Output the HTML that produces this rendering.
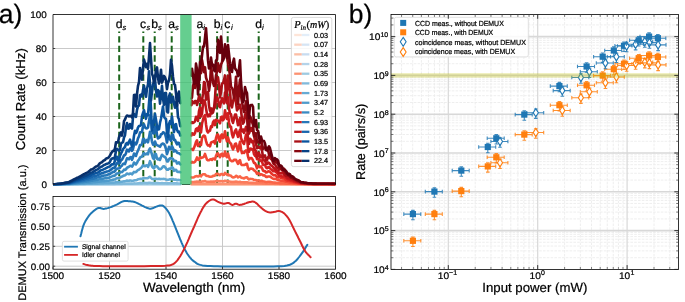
<!DOCTYPE html><html><head><meta charset="utf-8"><style>html,body{margin:0;padding:0;background:#fff;}body{width:685px;height:302px;overflow:hidden;font-family:"Liberation Sans",sans-serif;}svg{display:block;will-change:transform;}svg text{stroke:#000;stroke-width:0.22px;}</style></head><body><svg width="685" height="302" viewBox="0 0 685 302" text-rendering="geometricPrecision" font-family='"Liberation Sans", sans-serif'><defs><clipPath id="clipT"><rect x="53" y="14.5" width="282.5" height="171"/></clipPath><clipPath id="clipR"><rect x="391" y="14.5" width="287.6" height="254.9"/></clipPath></defs><rect width="685" height="302" fill="#fff"/><line x1="109.5" y1="14.5" x2="109.5" y2="184.5" stroke="#c9c9c9" stroke-width="1"/>
<line x1="166" y1="14.5" x2="166" y2="184.5" stroke="#c9c9c9" stroke-width="1"/>
<line x1="222.5" y1="14.5" x2="222.5" y2="184.5" stroke="#c9c9c9" stroke-width="1"/>
<line x1="279" y1="14.5" x2="279" y2="184.5" stroke="#c9c9c9" stroke-width="1"/>
<line x1="53" y1="150.5" x2="335.5" y2="150.5" stroke="#c9c9c9" stroke-width="1"/>
<line x1="53" y1="116.5" x2="335.5" y2="116.5" stroke="#c9c9c9" stroke-width="1"/>
<line x1="53" y1="82.5" x2="335.5" y2="82.5" stroke="#c9c9c9" stroke-width="1"/>
<line x1="53" y1="48.5" x2="335.5" y2="48.5" stroke="#c9c9c9" stroke-width="1"/>
<line x1="119.2" y1="31.5" x2="119.2" y2="184.5" stroke="#1b641b" stroke-width="2" stroke-dasharray="6.35 3.2" stroke-dashoffset="4.85"/>
<line x1="143.3" y1="31.5" x2="143.3" y2="184.5" stroke="#1b641b" stroke-width="2" stroke-dasharray="6.35 3.2" stroke-dashoffset="4.85"/>
<line x1="154.7" y1="31.5" x2="154.7" y2="184.5" stroke="#1b641b" stroke-width="2" stroke-dasharray="6.35 3.2" stroke-dashoffset="4.85"/>
<line x1="171.7" y1="31.5" x2="171.7" y2="184.5" stroke="#1b641b" stroke-width="2" stroke-dasharray="6.35 3.2" stroke-dashoffset="4.85"/>
<line x1="199.9" y1="31.5" x2="199.9" y2="184.5" stroke="#1b641b" stroke-width="2" stroke-dasharray="6.35 3.2" stroke-dashoffset="4.85"/>
<line x1="217.1" y1="31.5" x2="217.1" y2="184.5" stroke="#1b641b" stroke-width="2" stroke-dasharray="6.35 3.2" stroke-dashoffset="4.85"/>
<line x1="227.7" y1="31.5" x2="227.7" y2="184.5" stroke="#1b641b" stroke-width="2" stroke-dasharray="6.35 3.2" stroke-dashoffset="4.85"/>
<line x1="258.7" y1="31.5" x2="258.7" y2="184.5" stroke="#1b641b" stroke-width="2" stroke-dasharray="6.35 3.2" stroke-dashoffset="4.85"/>
<line x1="53" y1="184.5" x2="335.5" y2="184.5" stroke="#000" stroke-width="0.8"/>
<g clip-path="url(#clipT)">
<path d="M53 184.2 L54 184.2 L55 184.2 L56 184.2 L57 184.2 L58 184.2 L59 184.2 L60 184.2 L61 184.2 L62 184.2 L63 184.2 L64 184.2 L65 184.2 L66 184.2 L67 184.2 L68 184.2 L69 184.2 L70 184.2 L71 184.2 L72 184.2 L73 184.2 L74 184.2 L75 184.2 L76 184.2 L77 184.2 L78 184.2 L79 184.2 L80 184.2 L81 184.2 L82 184.2 L83 184.2 L84 184.2 L85 184.2 L86 184.2 L87 184.2 L88 184.2 L89 184.2 L90 184.2 L91 184.2 L92 184.2 L93 184.2 L94 184.2 L95 184.2 L96 184.2 L97 184.2 L98 184.2 L99 184.2 L100 184.2 L101 184.2 L102 184.2 L103 184.2 L104 184.2 L105 184.2 L106 184.2 L107 184.2 L108 184.2 L109 184.2 L110 184.2 L111 184.2 L112 184.2 L113 184.2 L114 184.2 L115 184.2 L116 184.2 L117 184.2 L118 184.2 L119 184.2 L120 184.2 L121 184.2 L122 184.2 L123 184.2 L124 184.2 L125 184.2 L126 184.2 L127 184.2 L128 184.2 L129 184.2 L130 184.2 L131 184.2 L132 184.2 L133 184.2 L134 184.2 L135 184.2 L136 184.2 L137 184.2 L138 184.2 L139 184.2 L140 184.2 L141 184.2 L142 184.2 L143 184.2 L144 184.2 L145 184.2 L146 184.2 L147 184.2 L148 184.2 L149 184.2 L150 184.2 L151 184.2 L152 184.2 L153 184.2 L154 184.2 L155 184.2 L156 184.2 L157 184.2 L158 184.2 L159 184.2 L160 184.2 L161 184.2 L162 184.2 L163 184.2 L164 184.2 L165 184.2 L166 184.2 L167 184.2 L168 184.2 L169 184.2 L170 184.2 L171 184.2 L172 184.2 L173 184.2 L174 184.2 L175 184.2 L176 184.2 L177 184.2 L178 184.2 L179 184.2 L180.3 184.2" fill="none" stroke="#e3eef9" stroke-width="2.6" stroke-linejoin="round" stroke-linecap="round"/>
<path d="M191.5 184.2 L192 184.2 L193 184.2 L194 184.2 L195 184.2 L196 184.2 L197 184.2 L198 184.2 L199 184.2 L200 184.2 L201 184.2 L202 184.2 L203 184.2 L204 184.2 L205 184.2 L206 184.2 L207 184.2 L208 184.2 L209 184.2 L210 184.2 L211 184.2 L212 184.2 L213 184.2 L214 184.2 L215 184.2 L216 184.2 L217 184.2 L218 184.2 L219 184.2 L220 184.2 L221 184.2 L222 184.2 L223 184.2 L224 184.2 L225 184.2 L226 184.2 L227 184.2 L228 184.2 L229 184.2 L230 184.2 L231 184.2 L232 184.2 L233 184.2 L234 184.2 L235 184.2 L236 184.2 L237 184.2 L238 184.2 L239 184.2 L240 184.2 L241 184.2 L242 184.2 L243 184.2 L244 184.2 L245 184.2 L246 184.2 L247 184.2 L248 184.2 L249 184.2 L250 184.2 L251 184.2 L252 184.2 L253 184.2 L254 184.2 L255 184.2 L256 184.2 L257 184.2 L258 184.2 L259 184.2 L260 184.2 L261 184.2 L262 184.2 L263 184.2 L264 184.2 L265 184.2 L266 184.2 L267 184.2 L268 184.2 L269 184.2 L270 184.2 L271 184.2 L272 184.2 L273 184.2 L274 184.2 L275 184.2 L276 184.2 L277 184.2 L278 184.2 L279 184.2 L280 184.2 L281 184.2 L282 184.2 L283 184.2 L284 184.2 L285 184.2 L286 184.2 L287 184.2 L288 184.2 L289 184.2 L290 184.2 L291 184.2 L292 184.2 L293 184.2 L294 184.2 L295 184.2 L296 184.2 L297 184.2 L298 184.2 L299 184.2 L300 184.2 L301 184.2 L302 184.2 L303 184.2 L304 184.2 L305 184.2 L306 184.2 L307 184.2 L308 184.2 L309 184.2 L310 184.2 L311 184.2 L312 184.2 L313 184.2 L314 184.2 L315 184.2 L316 184.2 L317 184.2 L318 184.2 L319 184.2 L320 184.2 L321 184.2 L322 184.2 L323 184.2 L324 184.2 L325 184.2 L326 184.2 L327 184.2 L328 184.2 L329 184.2 L330 184.2 L331 184.2 L332 184.2 L333 184.2 L334 184.2 L335 184.2" fill="none" stroke="#fee5d8" stroke-width="2.6" stroke-linejoin="round" stroke-linecap="round"/>
<path d="M53 184.2 L54 184.2 L55 184.2 L56 184.2 L57 184.2 L58 184.2 L59 184.2 L60 184.2 L61 184.2 L62 184.2 L63 184.2 L64 184.2 L65 184.2 L66 184.2 L67 184.2 L68 184.2 L69 184.2 L70 184.2 L71 184.2 L72 184.2 L73 184.2 L74 184.2 L75 184.2 L76 184.2 L77 184.2 L78 184.2 L79 184.2 L80 184.2 L81 184.2 L82 184.2 L83 184.2 L84 184.2 L85 184.2 L86 184.2 L87 184.2 L88 184.2 L89 184.2 L90 184.2 L91 184.2 L92 184.2 L93 184.2 L94 184.2 L95 184.2 L96 184.2 L97 184.2 L98 184.2 L99 184.2 L100 184.2 L101 184.2 L102 184.2 L103 184.2 L104 184.2 L105 184.2 L106 184.2 L107 184.2 L108 184.2 L109 184.2 L110 184.2 L111 184.2 L112 184.2 L113 184.2 L114 184.2 L115 184.2 L116 184.2 L117 184.2 L118 184.2 L119 184.2 L120 184.2 L121 184.2 L122 184.2 L123 184.2 L124 184.2 L125 184.2 L126 184.2 L127 184.2 L128 184.2 L129 184.2 L130 184.2 L131 184.2 L132 184.2 L133 184.2 L134 184.2 L135 184.2 L136 184.2 L137 184.2 L138 184.2 L139 184.2 L140 184.2 L141 184.2 L142 184.2 L143 184.2 L144 184.2 L145 184.2 L146 184.2 L147 184.2 L148 184.2 L149 184.2 L150 184.2 L151 184.2 L152 184.2 L153 184.2 L154 184.2 L155 184.2 L156 184.2 L157 184.2 L158 184.2 L159 184.2 L160 184.2 L161 184.2 L162 184.2 L163 184.2 L164 184.2 L165 184.2 L166 184.2 L167 184.2 L168 184.2 L169 184.2 L170 184.2 L171 184.2 L172 184.2 L173 184.2 L174 184.2 L175 184.2 L176 184.2 L177 184.2 L178 184.2 L179 184.2 L180.3 184.2" fill="none" stroke="#d6e5f4" stroke-width="2.6" stroke-linejoin="round" stroke-linecap="round"/>
<path d="M191.5 184.2 L192 184.2 L193 184.2 L194 184.2 L195 184.2 L196 184.2 L197 184.2 L198 184.2 L199 184.2 L200 184.2 L201 184.2 L202 184.2 L203 184.2 L204 184.2 L205 184.2 L206 184.2 L207 184.2 L208 184.2 L209 184.2 L210 184.2 L211 184.2 L212 184.2 L213 184.2 L214 184.2 L215 184.2 L216 184.2 L217 184.2 L218 184.2 L219 184.2 L220 184.2 L221 184.2 L222 184.2 L223 184.2 L224 184.2 L225 184.2 L226 184.2 L227 184.2 L228 184.2 L229 184.2 L230 184.2 L231 184.2 L232 184.2 L233 184.2 L234 184.2 L235 184.2 L236 184.2 L237 184.2 L238 184.2 L239 184.2 L240 184.2 L241 184.2 L242 184.2 L243 184.2 L244 184.2 L245 184.2 L246 184.2 L247 184.2 L248 184.2 L249 184.2 L250 184.2 L251 184.2 L252 184.2 L253 184.2 L254 184.2 L255 184.2 L256 184.2 L257 184.2 L258 184.2 L259 184.2 L260 184.2 L261 184.2 L262 184.2 L263 184.2 L264 184.2 L265 184.2 L266 184.2 L267 184.2 L268 184.2 L269 184.2 L270 184.2 L271 184.2 L272 184.2 L273 184.2 L274 184.2 L275 184.2 L276 184.2 L277 184.2 L278 184.2 L279 184.2 L280 184.2 L281 184.2 L282 184.2 L283 184.2 L284 184.2 L285 184.2 L286 184.2 L287 184.2 L288 184.2 L289 184.2 L290 184.2 L291 184.2 L292 184.2 L293 184.2 L294 184.2 L295 184.2 L296 184.2 L297 184.2 L298 184.2 L299 184.2 L300 184.2 L301 184.2 L302 184.2 L303 184.2 L304 184.2 L305 184.2 L306 184.2 L307 184.2 L308 184.2 L309 184.2 L310 184.2 L311 184.2 L312 184.2 L313 184.2 L314 184.2 L315 184.2 L316 184.2 L317 184.2 L318 184.2 L319 184.2 L320 184.2 L321 184.2 L322 184.2 L323 184.2 L324 184.2 L325 184.2 L326 184.2 L327 184.2 L328 184.2 L329 184.2 L330 184.2 L331 184.2 L332 184.2 L333 184.2 L334 184.2 L335 184.2" fill="none" stroke="#fdd3c1" stroke-width="2.6" stroke-linejoin="round" stroke-linecap="round"/>
<path d="M53 184.2 L54 184.2 L55 184.2 L56 184.2 L57 184.2 L58 184.2 L59 184.2 L60 184.2 L61 184.2 L62 184.2 L63 184.2 L64 184.2 L65 184.2 L66 184.2 L67 184.2 L68 184.2 L69 184.2 L70 184.2 L71 184.2 L72 184.2 L73 184.2 L74 184.2 L75 184.2 L76 184.2 L77 184.2 L78 184.2 L79 184.2 L80 184.2 L81 184.2 L82 184.2 L83 184.2 L84 184.2 L85 184.2 L86 184.2 L87 184.2 L88 184.2 L89 184.2 L90 184.2 L91 184.2 L92 184.2 L93 184.2 L94 184.2 L95 184.2 L96 184.2 L97 184.2 L98 184.2 L99 184.2 L100 184.2 L101 184.2 L102 184.2 L103 184.2 L104 184.2 L105 184.2 L106 184.2 L107 184.2 L108 184.2 L109 184.2 L110 184.2 L111 184.2 L112 184.2 L113 184.2 L114 184.2 L115 184.2 L116 184.2 L117 184.2 L118 184.2 L119 184.2 L120 184.2 L121 184.2 L122 184.2 L123 184.2 L124 184.2 L125 184.2 L126 184.2 L127 184.2 L128 184.2 L129 184.2 L130 184.2 L131 184.2 L132 184.2 L133 184.2 L134 184.2 L135 184.2 L136 184.2 L137 184.2 L138 184.2 L139 184.2 L140 184.2 L141 184.2 L142 184.2 L143 184.2 L144 184.2 L145 184.2 L146 184.2 L147 184.2 L148 184.2 L149 184.2 L150 184.2 L151 184.2 L152 184.2 L153 184.2 L154 184.2 L155 184.2 L156 184.2 L157 184.2 L158 184.2 L159 184.2 L160 184.2 L161 184.2 L162 184.2 L163 184.2 L164 184.2 L165 184.2 L166 184.2 L167 184.2 L168 184.2 L169 184.2 L170 184.2 L171 184.2 L172 184.2 L173 184.2 L174 184.2 L175 184.2 L176 184.2 L177 184.2 L178 184.2 L179 184.2 L180.3 184.2" fill="none" stroke="#c8dcf0" stroke-width="2.6" stroke-linejoin="round" stroke-linecap="round"/>
<path d="M191.5 184.2 L192 184.2 L193 184.2 L194 184.2 L195 184.2 L196 184.2 L197 184.2 L198 184.2 L199 184.2 L200 184.2 L201 184.2 L202 184.2 L203 184.2 L204 184.2 L205 184.2 L206 184.2 L207 184.2 L208 184.2 L209 184.2 L210 184.2 L211 184.2 L212 184.2 L213 184.2 L214 184.2 L215 184.2 L216 184.2 L217 184.2 L218 184.2 L219 184.2 L220 184.2 L221 184.2 L222 184.2 L223 184.2 L224 184.2 L225 184.2 L226 184.2 L227 184.2 L228 184.2 L229 184.2 L230 184.2 L231 184.2 L232 184.2 L233 184.2 L234 184.2 L235 184.2 L236 184.2 L237 184.2 L238 184.2 L239 184.2 L240 184.2 L241 184.2 L242 184.2 L243 184.2 L244 184.2 L245 184.2 L246 184.2 L247 184.2 L248 184.2 L249 184.2 L250 184.2 L251 184.2 L252 184.2 L253 184.2 L254 184.2 L255 184.2 L256 184.2 L257 184.2 L258 184.2 L259 184.2 L260 184.2 L261 184.2 L262 184.2 L263 184.2 L264 184.2 L265 184.2 L266 184.2 L267 184.2 L268 184.2 L269 184.2 L270 184.2 L271 184.2 L272 184.2 L273 184.2 L274 184.2 L275 184.2 L276 184.2 L277 184.2 L278 184.2 L279 184.2 L280 184.2 L281 184.2 L282 184.2 L283 184.2 L284 184.2 L285 184.2 L286 184.2 L287 184.2 L288 184.2 L289 184.2 L290 184.2 L291 184.2 L292 184.2 L293 184.2 L294 184.2 L295 184.2 L296 184.2 L297 184.2 L298 184.2 L299 184.2 L300 184.2 L301 184.2 L302 184.2 L303 184.2 L304 184.2 L305 184.2 L306 184.2 L307 184.2 L308 184.2 L309 184.2 L310 184.2 L311 184.2 L312 184.2 L313 184.2 L314 184.2 L315 184.2 L316 184.2 L317 184.2 L318 184.2 L319 184.2 L320 184.2 L321 184.2 L322 184.2 L323 184.2 L324 184.2 L325 184.2 L326 184.2 L327 184.2 L328 184.2 L329 184.2 L330 184.2 L331 184.2 L332 184.2 L333 184.2 L334 184.2 L335 184.2" fill="none" stroke="#fcbea5" stroke-width="2.6" stroke-linejoin="round" stroke-linecap="round"/>
<path d="M53 184.2 L54 184.2 L55 184.2 L56 184.2 L57 184.2 L58 184.2 L59 184.2 L60 184.2 L61 184.2 L62 184.2 L63 184.2 L64 184.2 L65 184.2 L66 184.2 L67 184.2 L68 184.2 L69 184.2 L70 184.2 L71 184.2 L72 184.2 L73 184.2 L74 184.2 L75 184.2 L76 184.2 L77 184.2 L78 184.2 L79 184.2 L80 184.2 L81 184.2 L82 184.2 L83 184.2 L84 184.2 L85 184.2 L86 184.2 L87 184.2 L88 184.2 L89 184.2 L90 184.2 L91 184.2 L92 184.2 L93 184.2 L94 184.2 L95 184.2 L96 184.2 L97 184.2 L98 184.2 L99 184.2 L100 184.2 L101 184.2 L102 184.2 L103 184.2 L104 184.2 L105 184.2 L106 184.2 L107 184.2 L108 184.2 L109 184.2 L110 184.2 L111 184.2 L112 184.2 L113 184.2 L114 184.2 L115 184.2 L116 184.2 L117 184.2 L118 184.2 L119 184.2 L120 184.2 L121 184.2 L122 184.2 L123 184.2 L124 184.2 L125 184.2 L126 184.2 L127 184.2 L128 184.2 L129 184.2 L130 184.2 L131 184.2 L132 184.2 L133 184.2 L134 184.2 L135 184.2 L136 184.2 L137 184.2 L138 184.2 L139 184.2 L140 184.2 L141 184.2 L142 184.2 L143 184.2 L144 184.2 L145 184.2 L146 184.2 L147 184.2 L148 184.2 L149 184.2 L150 184.2 L151 184.2 L152 184.2 L153 184.2 L154 184.2 L155 184.2 L156 184.2 L157 184.2 L158 184.2 L159 184.2 L160 184.2 L161 184.2 L162 184.2 L163 184.2 L164 184.2 L165 184.2 L166 184.2 L167 184.2 L168 184.2 L169 184.2 L170 184.2 L171 184.2 L172 184.2 L173 184.2 L174 184.2 L175 184.2 L176 184.2 L177 184.2 L178 184.2 L179 184.2 L180.3 184.2" fill="none" stroke="#b4d3e9" stroke-width="2.6" stroke-linejoin="round" stroke-linecap="round"/>
<path d="M191.5 184.2 L192 184.2 L193 184.2 L194 184.2 L195 184.2 L196 184.2 L197 184.2 L198 184.2 L199 184.2 L200 184.2 L201 184.2 L202 184.2 L203 184.2 L204 184.2 L205 184.2 L206 184.2 L207 184.2 L208 184.2 L209 184.2 L210 184.2 L211 184.2 L212 184.2 L213 184.2 L214 184.2 L215 184.2 L216 184.2 L217 184.2 L218 184.2 L219 184.2 L220 184.2 L221 184.2 L222 184.2 L223 184.2 L224 184.2 L225 184.2 L226 184.2 L227 184.2 L228 184.2 L229 184.2 L230 184.2 L231 184.2 L232 184.2 L233 184.2 L234 184.2 L235 184.2 L236 184.2 L237 184.2 L238 184.2 L239 184.2 L240 184.2 L241 184.2 L242 184.2 L243 184.2 L244 184.2 L245 184.2 L246 184.2 L247 184.2 L248 184.2 L249 184.2 L250 184.2 L251 184.2 L252 184.2 L253 184.2 L254 184.2 L255 184.2 L256 184.2 L257 184.2 L258 184.2 L259 184.2 L260 184.2 L261 184.2 L262 184.2 L263 184.2 L264 184.2 L265 184.2 L266 184.2 L267 184.2 L268 184.2 L269 184.2 L270 184.2 L271 184.2 L272 184.2 L273 184.2 L274 184.2 L275 184.2 L276 184.2 L277 184.2 L278 184.2 L279 184.2 L280 184.2 L281 184.2 L282 184.2 L283 184.2 L284 184.2 L285 184.2 L286 184.2 L287 184.2 L288 184.2 L289 184.2 L290 184.2 L291 184.2 L292 184.2 L293 184.2 L294 184.2 L295 184.2 L296 184.2 L297 184.2 L298 184.2 L299 184.2 L300 184.2 L301 184.2 L302 184.2 L303 184.2 L304 184.2 L305 184.2 L306 184.2 L307 184.2 L308 184.2 L309 184.2 L310 184.2 L311 184.2 L312 184.2 L313 184.2 L314 184.2 L315 184.2 L316 184.2 L317 184.2 L318 184.2 L319 184.2 L320 184.2 L321 184.2 L322 184.2 L323 184.2 L324 184.2 L325 184.2 L326 184.2 L327 184.2 L328 184.2 L329 184.2 L330 184.2 L331 184.2 L332 184.2 L333 184.2 L334 184.2 L335 184.2" fill="none" stroke="#fca98c" stroke-width="2.6" stroke-linejoin="round" stroke-linecap="round"/>
<path d="M53 184.2 L54 184.2 L55 184.2 L56 184.2 L57 184.2 L58 184.2 L59 184.2 L60 184.2 L61 184.2 L62 184.2 L63 184.2 L64 184.2 L65 184.2 L66 184.2 L67 184.2 L68 184.2 L69 184.2 L70 184.2 L71 184.2 L72 184.2 L73 184.2 L74 184.2 L75 184.2 L76 184.2 L77 184.2 L78 184.2 L79 184.2 L80 184.2 L81 184.2 L82 184.2 L83 184.2 L84 184.2 L85 184.2 L86 184.2 L87 184.2 L88 184.2 L89 184.2 L90 184.2 L91 184.2 L92 184.2 L93 184.2 L94 184.2 L95 184.2 L96 184.2 L97 184.2 L98 184.2 L99 184.2 L100 184.2 L101 184.2 L102 184.2 L103 184.2 L104 184.2 L105 184.2 L106 184.2 L107 184.2 L108 184.2 L109 184.2 L110 184.2 L111 184.2 L112 184.2 L113 184.2 L114 184.2 L115 184.2 L116 184.2 L117 184.2 L118 184.2 L119 184.2 L120 184.2 L121 184.2 L122 184.2 L123 184.2 L124 184.2 L125 184.2 L126 184.2 L127 184.2 L128 184.2 L129 184.2 L130 184.2 L131 184.2 L132 184.2 L133 184.2 L134 184.2 L135 184.2 L136 184.2 L137 184.2 L138 184.2 L139 184.2 L140 184.2 L141 184.2 L142 184.2 L143 184.1 L144 184.1 L145 184.1 L146 184.1 L147 184.1 L148 184.1 L149 184.1 L150 184 L151 184.1 L152 184.1 L153 184.1 L154 184.2 L155 184.1 L156 184.1 L157 184.2 L158 184.2 L159 184.2 L160 184.2 L161 184.2 L162 184.1 L163 184.2 L164 184.2 L165 184.2 L166 184.2 L167 184.2 L168 184.2 L169 184.2 L170 184.2 L171 184.2 L172 184.2 L173 184.2 L174 184.2 L175 184.2 L176 184.2 L177 184.2 L178 184.2 L179 184.2 L180.3 184.2" fill="none" stroke="#9dcae1" stroke-width="2.6" stroke-linejoin="round" stroke-linecap="round"/>
<path d="M191.5 184.2 L192 184.2 L193 184.2 L194 184.2 L195 184.2 L196 184.1 L197 184.1 L198 184.2 L199 184.2 L200 184.2 L201 184.2 L202 184.1 L203 184.1 L204 184.1 L205 184.1 L206 184.1 L207 184.1 L208 184.2 L209 184.2 L210 184.2 L211 184.2 L212 184.2 L213 184.2 L214 184.1 L215 184.2 L216 184.1 L217 184.1 L218 184.1 L219 184.1 L220 184.2 L221 184.1 L222 184.1 L223 184.1 L224 184.1 L225 184 L226 184.1 L227 184.1 L228 184.1 L229 184.1 L230 184.1 L231 184.2 L232 184.2 L233 184.2 L234 184.2 L235 184.2 L236 184.2 L237 184.2 L238 184.2 L239 184.2 L240 184.2 L241 184.2 L242 184.2 L243 184.2 L244 184.2 L245 184.2 L246 184.2 L247 184.2 L248 184.2 L249 184.2 L250 184.2 L251 184.2 L252 184.2 L253 184.2 L254 184.2 L255 184.2 L256 184.2 L257 184.2 L258 184.2 L259 184.2 L260 184.2 L261 184.2 L262 184.2 L263 184.2 L264 184.2 L265 184.2 L266 184.2 L267 184.2 L268 184.2 L269 184.2 L270 184.2 L271 184.2 L272 184.2 L273 184.2 L274 184.2 L275 184.2 L276 184.2 L277 184.2 L278 184.2 L279 184.2 L280 184.2 L281 184.2 L282 184.2 L283 184.2 L284 184.2 L285 184.2 L286 184.2 L287 184.2 L288 184.2 L289 184.2 L290 184.2 L291 184.2 L292 184.2 L293 184.2 L294 184.2 L295 184.2 L296 184.2 L297 184.2 L298 184.2 L299 184.2 L300 184.2 L301 184.2 L302 184.2 L303 184.2 L304 184.2 L305 184.2 L306 184.2 L307 184.2 L308 184.2 L309 184.2 L310 184.2 L311 184.2 L312 184.2 L313 184.2 L314 184.2 L315 184.2 L316 184.2 L317 184.2 L318 184.2 L319 184.2 L320 184.2 L321 184.2 L322 184.2 L323 184.2 L324 184.2 L325 184.2 L326 184.2 L327 184.2 L328 184.2 L329 184.2 L330 184.2 L331 184.2 L332 184.2 L333 184.2 L334 184.2 L335 184.2" fill="none" stroke="#fc9272" stroke-width="2.6" stroke-linejoin="round" stroke-linecap="round"/>
<path d="M53 184.2 L54 184.2 L55 184.2 L56 184.2 L57 184.2 L58 184.2 L59 184.2 L60 184.2 L61 184.2 L62 184.2 L63 184.2 L64 184.2 L65 184.2 L66 184.2 L67 184.2 L68 184.2 L69 184.2 L70 184.2 L71 184.2 L72 184.2 L73 184.2 L74 184.2 L75 184.2 L76 184.2 L77 184.2 L78 184.2 L79 184.2 L80 184.2 L81 184.2 L82 184.2 L83 184.2 L84 184.2 L85 184.2 L86 184.2 L87 184.2 L88 184.2 L89 184.2 L90 184.2 L91 184.2 L92 184.2 L93 184.2 L94 184.2 L95 184.2 L96 184.2 L97 184.2 L98 184.2 L99 184.2 L100 184.2 L101 184.2 L102 184.2 L103 184.2 L104 184.2 L105 184.2 L106 184.2 L107 184.2 L108 184.2 L109 184.2 L110 184.1 L111 184.1 L112 184.1 L113 184.1 L114 184.1 L115 184.1 L116 184 L117 184 L118 184 L119 184 L120 184 L121 183.9 L122 183.9 L123 183.8 L124 183.8 L125 183.8 L126 183.7 L127 183.6 L128 183.6 L129 183.6 L130 183.6 L131 183.6 L132 183.7 L133 183.6 L134 183.4 L135 183.5 L136 183.5 L137 183.5 L138 183.4 L139 183.3 L140 183.1 L141 183.1 L142 183.1 L143 183.1 L144 182.9 L145 183 L146 183 L147 183.1 L148 183.1 L149 182.8 L150 182.7 L151 182.9 L152 183.1 L153 183.1 L154 183.1 L155 183 L156 183.1 L157 183.1 L158 183.1 L159 183.2 L160 183.3 L161 183.2 L162 183.1 L163 183.2 L164 183.2 L165 183.2 L166 183.2 L167 183.4 L168 183.4 L169 183.3 L170 183.3 L171 183.3 L172 183.2 L173 183.3 L174 183.4 L175 183.3 L176 183.3 L177 183.4 L178 183.5 L179 183.5 L180.3 183.5" fill="none" stroke="#81badb" stroke-width="2.6" stroke-linejoin="round" stroke-linecap="round"/>
<path d="M191.5 182.1 L192 182 L193 182 L194 182 L195 181.9 L196 181.8 L197 181.6 L198 181.7 L199 181.6 L200 181.6 L201 181.9 L202 181.5 L203 181.4 L204 181.2 L205 181 L206 181.4 L207 181.7 L208 181.7 L209 181.7 L210 181.7 L211 181.5 L212 181.7 L213 181.6 L214 181.5 L215 181.6 L216 181.3 L217 181.1 L218 181 L219 181.3 L220 181.4 L221 181.1 L222 181.2 L223 181.4 L224 181.3 L225 180.7 L226 180.9 L227 181.4 L228 181.2 L229 181.4 L230 181.6 L231 181.7 L232 181.9 L233 182 L234 181.9 L235 181.8 L236 181.6 L237 181.7 L238 182 L239 182 L240 181.8 L241 182.2 L242 182.3 L243 182.3 L244 182.4 L245 182.4 L246 182.3 L247 182.2 L248 182.5 L249 182.8 L250 182.7 L251 182.8 L252 182.9 L253 182.9 L254 183 L255 183 L256 183.1 L257 183.3 L258 183.2 L259 183.3 L260 183.3 L261 183.2 L262 183.3 L263 183.5 L264 183.5 L265 183.5 L266 183.7 L267 183.6 L268 183.6 L269 183.6 L270 183.6 L271 183.7 L272 183.8 L273 183.8 L274 183.8 L275 183.9 L276 183.9 L277 183.9 L278 184 L279 184 L280 184.1 L281 184.1 L282 184.1 L283 184.1 L284 184.1 L285 184.1 L286 184.2 L287 184.2 L288 184.2 L289 184.2 L290 184.2 L291 184.2 L292 184.2 L293 184.2 L294 184.2 L295 184.2 L296 184.2 L297 184.2 L298 184.2 L299 184.2 L300 184.2 L301 184.2 L302 184.2 L303 184.2 L304 184.2 L305 184.2 L306 184.2 L307 184.2 L308 184.2 L309 184.2 L310 184.2 L311 184.2 L312 184.2 L313 184.2 L314 184.2 L315 184.2 L316 184.2 L317 184.2 L318 184.2 L319 184.2 L320 184.2 L321 184.2 L322 184.2 L323 184.2 L324 184.2 L325 184.2 L326 184.2 L327 184.2 L328 184.2 L329 184.2 L330 184.2 L331 184.2 L332 184.2 L333 184.2 L334 184.2 L335 184.2" fill="none" stroke="#fb7b5b" stroke-width="2.6" stroke-linejoin="round" stroke-linecap="round"/>
<path d="M53 184.2 L54 184.2 L55 184.2 L56 184.2 L57 184.2 L58 184.2 L59 184.2 L60 184.2 L61 184.2 L62 184.2 L63 184.2 L64 184.2 L65 184.2 L66 184.2 L67 184.2 L68 184.2 L69 184.2 L70 184.2 L71 184.2 L72 184.2 L73 184.2 L74 184.2 L75 184.2 L76 184.1 L77 184.1 L78 184.1 L79 184 L80 184 L81 184 L82 183.9 L83 183.9 L84 183.9 L85 183.9 L86 183.8 L87 183.8 L88 183.8 L89 183.7 L90 183.7 L91 183.6 L92 183.6 L93 183.5 L94 183.5 L95 183.5 L96 183.4 L97 183.4 L98 183.4 L99 183.3 L100 183.2 L101 183.2 L102 183.2 L103 183.1 L104 183 L105 183 L106 183 L107 182.9 L108 182.9 L109 182.9 L110 182.8 L111 182.7 L112 182.6 L113 182.5 L114 182.6 L115 182.4 L116 182.1 L117 182 L118 182.1 L119 182.1 L120 182 L121 181.8 L122 181.8 L123 181.5 L124 181.3 L125 181.4 L126 180.9 L127 180.6 L128 180.7 L129 180.7 L130 180.4 L131 180.6 L132 181 L133 180.8 L134 180.4 L135 180.2 L136 180.3 L137 179.9 L138 179.2 L139 179.1 L140 178.9 L141 178.9 L142 178.9 L143 178.3 L144 178.1 L145 178.3 L146 178.3 L147 178.2 L148 178.2 L149 177.2 L150 176.8 L151 177.9 L152 178.9 L153 179.1 L154 179.1 L155 178.7 L156 178.8 L157 179 L158 179 L159 178.8 L160 179.1 L161 179 L162 179 L163 179 L164 178.9 L165 179.1 L166 179.6 L167 179.9 L168 179.7 L169 179.6 L170 179.3 L171 179.2 L172 178.9 L173 179.1 L174 179.8 L175 179.6 L176 179.6 L177 180.2 L178 180 L179 179.9 L180.3 180.2" fill="none" stroke="#66abd4" stroke-width="2.6" stroke-linejoin="round" stroke-linecap="round"/>
<path d="M191.5 177.4 L192 177.5 L193 177.5 L194 177.3 L195 176.6 L196 176.3 L197 176.1 L198 176.5 L199 176.1 L200 175.4 L201 176.3 L202 175 L203 174.2 L204 174.3 L205 174.4 L206 175.6 L207 175.9 L208 176.1 L209 176.4 L210 176.7 L211 176.8 L212 176.6 L213 175.9 L214 175.9 L215 175.5 L216 174 L217 173.7 L218 173.8 L219 174.9 L220 175.2 L221 174 L222 174 L223 174.9 L224 174.8 L225 172.9 L226 173.7 L227 174.7 L228 174.3 L229 175.2 L230 175.4 L231 175.8 L232 176.9 L233 177.5 L234 177.3 L235 176.8 L236 175.8 L237 176.2 L238 177.4 L239 176.9 L240 176.3 L241 177.5 L242 177.9 L243 178.1 L244 178.4 L245 177.8 L246 177.4 L247 177.3 L248 178.7 L249 179.4 L250 178.9 L251 179 L252 179 L253 179.2 L254 180 L255 180 L256 180.1 L257 180.8 L258 180.4 L259 180.6 L260 181.1 L261 180.7 L262 180.8 L263 181.4 L264 181.5 L265 181.8 L266 182.1 L267 182 L268 181.8 L269 181.8 L270 181.9 L271 182 L272 182.2 L273 182.4 L274 182.6 L275 182.6 L276 182.7 L277 182.7 L278 182.9 L279 183.1 L280 183.1 L281 183.2 L282 183.2 L283 183.2 L284 183.3 L285 183.4 L286 183.6 L287 183.7 L288 183.7 L289 183.7 L290 183.8 L291 183.9 L292 183.9 L293 183.9 L294 184 L295 184 L296 184.1 L297 184.2 L298 184.2 L299 184.2 L300 184.2 L301 184.2 L302 184.2 L303 184.2 L304 184.2 L305 184.2 L306 184.2 L307 184.2 L308 184.2 L309 184.2 L310 184.2 L311 184.2 L312 184.2 L313 184.2 L314 184.2 L315 184.2 L316 184.2 L317 184.2 L318 184.2 L319 184.2 L320 184.2 L321 184.2 L322 184.2 L323 184.2 L324 184.2 L325 184.2 L326 184.2 L327 184.2 L328 184.2 L329 184.2 L330 184.2 L331 184.2 L332 184.2 L333 184.2 L334 184.2 L335 184.2" fill="none" stroke="#fa6547" stroke-width="2.6" stroke-linejoin="round" stroke-linecap="round"/>
<path d="M53 184.2 L54 184.2 L55 184.2 L56 184.2 L57 184.2 L58 184.2 L59 184.2 L60 184.2 L61 184.2 L62 184.2 L63 184.2 L64 184.2 L65 184.2 L66 184.2 L67 184.2 L68 184.2 L69 184.1 L70 184.1 L71 184 L72 183.9 L73 183.9 L74 183.8 L75 183.7 L76 183.6 L77 183.6 L78 183.5 L79 183.4 L80 183.4 L81 183.3 L82 183.2 L83 183.1 L84 183.1 L85 183 L86 182.9 L87 182.8 L88 182.8 L89 182.7 L90 182.6 L91 182.5 L92 182.4 L93 182.3 L94 182.2 L95 182.1 L96 182 L97 181.9 L98 181.8 L99 181.7 L100 181.5 L101 181.4 L102 181.3 L103 181.2 L104 181.1 L105 181.1 L106 180.9 L107 180.8 L108 180.7 L109 180.6 L110 180.4 L111 180.2 L112 180 L113 179.6 L114 179.6 L115 179.4 L116 178.6 L117 178.1 L118 178.3 L119 178.1 L120 177.6 L121 176.9 L122 176.6 L123 176 L124 175.5 L125 175.4 L126 174.5 L127 173.5 L128 173.9 L129 174.3 L130 173.6 L131 173.5 L132 174.4 L133 173.2 L134 171.9 L135 172.2 L136 172 L137 171 L138 169.9 L139 169.7 L140 168.7 L141 168 L142 166.9 L143 165.3 L144 165.8 L145 166.3 L146 165.4 L147 165.2 L148 166.9 L149 164.5 L150 161.2 L151 163.3 L152 166.4 L153 167.7 L154 168.3 L155 166.3 L156 166.1 L157 166.4 L158 167.7 L159 168.9 L160 169.3 L161 168.9 L162 167.9 L163 166.5 L164 166.2 L165 167.2 L166 168.4 L167 169.8 L168 169.8 L169 168.7 L170 168.5 L171 168.6 L172 167.1 L173 168 L174 170.8 L175 169.9 L176 169.7 L177 171.6 L178 172 L179 171.7 L180.3 172.2" fill="none" stroke="#4f9bcb" stroke-width="2.6" stroke-linejoin="round" stroke-linecap="round"/>
<path d="M191.5 162.6 L192 161.8 L193 162.4 L194 162.5 L195 161.8 L196 159.9 L197 157.4 L198 159.7 L199 159.9 L200 157.3 L201 158 L202 157.5 L203 157.4 L204 156.5 L205 153.9 L206 156.8 L207 159.7 L208 160.3 L209 160.3 L210 159.5 L211 159.1 L212 159.9 L213 158.5 L214 158.7 L215 159.5 L216 155.9 L217 153.8 L218 153.4 L219 155.8 L220 157.1 L221 154.4 L222 153.7 L223 156.2 L224 155.8 L225 151.6 L226 155.7 L227 157.2 L228 153.6 L229 157.2 L230 160.2 L231 160.7 L232 161.3 L233 161.1 L234 159.8 L235 159.9 L236 159.7 L237 161.9 L238 163.9 L239 161.2 L240 160.1 L241 164.3 L242 165.1 L243 164.9 L244 165.1 L245 164.8 L246 163.9 L247 163.9 L248 168.2 L249 170 L250 168.7 L251 168.6 L252 168.8 L253 169.1 L254 170.4 L255 170.8 L256 172 L257 173.9 L258 172.8 L259 173.3 L260 174.8 L261 174.2 L262 174.4 L263 175.4 L264 175.3 L265 175.7 L266 176.9 L267 176.9 L268 176.6 L269 176.4 L270 176.6 L271 177.2 L272 178 L273 178.6 L274 179 L275 178.8 L276 179 L277 179.6 L278 179.9 L279 180.2 L280 180.5 L281 180.8 L282 180.7 L283 180.8 L284 180.9 L285 181.3 L286 181.7 L287 181.8 L288 182 L289 182.2 L290 182.5 L291 182.6 L292 182.7 L293 182.9 L294 183.1 L295 183.2 L296 183.3 L297 183.5 L298 183.6 L299 183.7 L300 183.8 L301 183.9 L302 184 L303 184 L304 184.1 L305 184.1 L306 184.1 L307 184.2 L308 184.2 L309 184.2 L310 184.2 L311 184.2 L312 184.2 L313 184.2 L314 184.2 L315 184.2 L316 184.2 L317 184.2 L318 184.2 L319 184.2 L320 184.2 L321 184.2 L322 184.2 L323 184.2 L324 184.2 L325 184.2 L326 184.2 L327 184.2 L328 184.2 L329 184.2 L330 184.2 L331 184.2 L332 184.2 L333 184.2 L334 184.2 L335 184.2" fill="none" stroke="#f34a36" stroke-width="2.6" stroke-linejoin="round" stroke-linecap="round"/>
<path d="M53 184.2 L54 184.2 L55 184.2 L56 184.2 L57 184.2 L58 184.2 L59 184.2 L60 184.2 L61 184.2 L62 184.2 L63 184.2 L64 184.1 L65 184.1 L66 184 L67 184 L68 183.9 L69 183.9 L70 183.7 L71 183.6 L72 183.5 L73 183.4 L74 183.2 L75 183.1 L76 183 L77 182.8 L78 182.8 L79 182.6 L80 182.5 L81 182.3 L82 182.2 L83 182.1 L84 181.9 L85 181.8 L86 181.7 L87 181.5 L88 181.4 L89 181.2 L90 181 L91 180.8 L92 180.7 L93 180.5 L94 180.3 L95 180.1 L96 180 L97 179.9 L98 179.7 L99 179.5 L100 179.2 L101 179 L102 178.9 L103 178.7 L104 178.5 L105 178.3 L106 178.1 L107 178 L108 177.8 L109 177.7 L110 177.3 L111 176.8 L112 176.4 L113 175.9 L114 175.9 L115 175.6 L116 174.2 L117 173.4 L118 173.5 L119 173.1 L120 172.6 L121 171.9 L122 172.1 L123 171.1 L124 169.6 L125 169.9 L126 169.3 L127 167.7 L128 167.3 L129 166.7 L130 166 L131 165.7 L132 166.6 L133 165.3 L134 162.5 L135 163.2 L136 164.4 L137 162.9 L138 160.6 L139 159.6 L140 157.6 L141 156.9 L142 156.6 L143 154.5 L144 153 L145 154.5 L146 154.3 L147 153.3 L148 154.3 L149 150 L150 148.3 L151 151.3 L152 154.6 L153 158.2 L154 159.1 L155 153.8 L156 154.2 L157 158.8 L158 159.5 L159 158.6 L160 159.9 L161 157.1 L162 154.8 L163 155.7 L164 156.6 L165 157.2 L166 158.3 L167 161.4 L168 161.4 L169 159.2 L170 158.3 L171 158.6 L172 158.3 L173 159 L174 161.1 L175 160.7 L176 160.9 L177 163.5 L178 163.2 L179 162.3 L180.3 164.4" fill="none" stroke="#3a8ac2" stroke-width="2.6" stroke-linejoin="round" stroke-linecap="round"/>
<path d="M191.5 149 L192 149.1 L193 150 L194 147.9 L195 145.3 L196 141.9 L197 140.3 L198 146 L199 144.2 L200 143.9 L201 145 L202 138 L203 136.3 L204 135.5 L205 136.3 L206 140.9 L207 144 L208 145.4 L209 145.2 L210 146.3 L211 142.6 L212 142 L213 141.7 L214 141.2 L215 143.6 L216 138.2 L217 134.8 L218 134.6 L219 140.2 L220 141.7 L221 135.6 L222 134.4 L223 138.2 L224 136.7 L225 131.3 L226 137.7 L227 141.3 L228 137.4 L229 141.1 L230 143 L231 143.6 L232 147.2 L233 149.4 L234 147.1 L235 143.9 L236 143.6 L237 147.7 L238 151.3 L239 146.5 L240 141.8 L241 149.2 L242 153.1 L243 152.4 L244 153 L245 151.3 L246 150.4 L247 151.1 L248 156.4 L249 159.6 L250 158.2 L251 158 L252 158.5 L253 160.4 L254 162.9 L255 163 L256 165.1 L257 168.3 L258 165.8 L259 166.3 L260 167.2 L261 166.4 L262 168.1 L263 170.6 L264 171.1 L265 171.1 L266 172.4 L267 172.2 L268 171.4 L269 171.4 L270 171.9 L271 173 L272 174 L273 174.9 L274 175.4 L275 175 L276 175.6 L277 176.9 L278 177.4 L279 177.2 L280 177.3 L281 178.1 L282 178.3 L283 178.4 L284 178.5 L285 179.1 L286 180 L287 180.5 L288 180.8 L289 180.8 L290 181 L291 181.3 L292 181.5 L293 181.9 L294 182.3 L295 182.4 L296 182.6 L297 182.8 L298 182.9 L299 183.2 L300 183.4 L301 183.6 L302 183.7 L303 183.7 L304 183.8 L305 183.9 L306 183.9 L307 184 L308 184 L309 184.1 L310 184.1 L311 184.1 L312 184.2 L313 184.2 L314 184.2 L315 184.2 L316 184.2 L317 184.2 L318 184.2 L319 184.2 L320 184.2 L321 184.2 L322 184.2 L323 184.2 L324 184.2 L325 184.2 L326 184.2 L327 184.2 L328 184.2 L329 184.2 L330 184.2 L331 184.2 L332 184.2 L333 184.2 L334 184.2 L335 184.2" fill="none" stroke="#e63328" stroke-width="2.6" stroke-linejoin="round" stroke-linecap="round"/>
<path d="M53 184.2 L54 184.2 L55 184.2 L56 184.2 L57 184.2 L58 184.2 L59 184.2 L60 184.2 L61 184.2 L62 184.1 L63 184 L64 184 L65 183.9 L66 183.8 L67 183.7 L68 183.6 L69 183.6 L70 183.4 L71 183.2 L72 183 L73 182.8 L74 182.6 L75 182.4 L76 182.2 L77 182 L78 181.9 L79 181.7 L80 181.5 L81 181.3 L82 181.1 L83 180.9 L84 180.7 L85 180.5 L86 180.3 L87 180.1 L88 179.9 L89 179.6 L90 179.3 L91 179 L92 178.9 L93 178.7 L94 178.4 L95 178.1 L96 177.9 L97 177.6 L98 177.4 L99 177.1 L100 176.7 L101 176.4 L102 176.3 L103 175.9 L104 175.6 L105 175.4 L106 175.2 L107 174.9 L108 174.5 L109 174.4 L110 173.9 L111 173.2 L112 172.6 L113 171.8 L114 171.9 L115 171.2 L116 169.3 L117 168.7 L118 168.5 L119 168.4 L120 167.8 L121 166.3 L122 165.6 L123 163.9 L124 163.6 L125 164.1 L126 161.2 L127 158.3 L128 158.5 L129 159.3 L130 157.4 L131 157.1 L132 159.8 L133 157.2 L134 153.5 L135 155.2 L136 155.9 L137 152.7 L138 150.5 L139 148.2 L140 145.1 L141 145.1 L142 144 L143 139.1 L144 138.9 L145 142.6 L146 141 L147 139.8 L148 142.3 L149 137.6 L150 131.7 L151 135.4 L152 141.8 L153 144.7 L154 144.6 L155 141.5 L156 144.2 L157 145.1 L158 145.6 L159 146.1 L160 146.8 L161 144.8 L162 144 L163 143.5 L164 144.1 L165 145.8 L166 149 L167 154.1 L168 151.1 L169 146.8 L170 148.6 L171 149.2 L172 146.2 L173 148.1 L174 151.6 L175 150.2 L176 150.9 L177 152.5 L178 153 L179 153.2 L180.3 154.4" fill="none" stroke="#2777b8" stroke-width="2.6" stroke-linejoin="round" stroke-linecap="round"/>
<path d="M191.5 135.5 L192 133.4 L193 133.5 L194 134.7 L195 133.1 L196 129 L197 128.3 L198 131.1 L199 126.5 L200 127 L201 132.4 L202 123.6 L203 119.7 L204 116.5 L205 115.1 L206 124.2 L207 130.8 L208 132.5 L209 130.8 L210 130.7 L211 126.2 L212 126.9 L213 122.2 L214 120.6 L215 125.1 L216 119.8 L217 120.4 L218 120.6 L219 121.9 L220 123.3 L221 117.2 L222 116.7 L223 120.3 L224 118.7 L225 110.3 L226 115.3 L227 118.9 L228 113.4 L229 122.7 L230 126.7 L231 126.8 L232 134.1 L233 137.3 L234 134.2 L235 130.9 L236 129.4 L237 133.4 L238 137 L239 132.6 L240 129.8 L241 138 L242 140.8 L243 142.7 L244 143.9 L245 139.5 L246 134.6 L247 137.5 L248 148.5 L249 151.8 L250 148.7 L251 148.6 L252 149.6 L253 149.2 L254 154.2 L255 155.9 L256 155.3 L257 159.1 L258 159.1 L259 159.2 L260 161 L261 160.4 L262 161.5 L263 164.8 L264 165 L265 164.9 L266 167.5 L267 168.2 L268 167.3 L269 167.1 L270 168.4 L271 169.3 L272 170 L273 171.1 L274 171.1 L275 171 L276 172 L277 172.9 L278 174 L279 175.4 L280 175.6 L281 175.6 L282 176.4 L283 176.6 L284 176.1 L285 176.8 L286 177.8 L287 178.6 L288 179.3 L289 179.3 L290 179.9 L291 180.5 L292 180.5 L293 180.7 L294 181.4 L295 181.6 L296 181.9 L297 182.2 L298 182.3 L299 182.6 L300 183 L301 183.3 L302 183.3 L303 183.4 L304 183.6 L305 183.7 L306 183.7 L307 183.8 L308 183.9 L309 183.9 L310 183.9 L311 184 L312 184 L313 184 L314 184.1 L315 184.1 L316 184.1 L317 184.1 L318 184.1 L319 184.1 L320 184.1 L321 184.1 L322 184.1 L323 184.1 L324 184.1 L325 184.1 L326 184.1 L327 184.1 L328 184.1 L329 184.1 L330 184.1 L331 184.1 L332 184.1 L333 184.1 L334 184.1 L335 184.1" fill="none" stroke="#d21f20" stroke-width="2.6" stroke-linejoin="round" stroke-linecap="round"/>
<path d="M53 184.2 L54 184.2 L55 184.2 L56 184.2 L57 184.2 L58 184.2 L59 184.2 L60 184.1 L61 184.1 L62 184 L63 183.9 L64 183.8 L65 183.7 L66 183.5 L67 183.4 L68 183.3 L69 183.2 L70 183 L71 182.7 L72 182.5 L73 182.2 L74 181.9 L75 181.7 L76 181.4 L77 181.1 L78 181 L79 180.7 L80 180.5 L81 180.2 L82 179.9 L83 179.7 L84 179.4 L85 179.1 L86 178.8 L87 178.5 L88 178.3 L89 177.9 L90 177.5 L91 177.1 L92 176.9 L93 176.6 L94 176.2 L95 175.9 L96 175.7 L97 175.4 L98 175 L99 174.5 L100 173.9 L101 173.5 L102 173.4 L103 172.9 L104 172.5 L105 172.3 L106 171.8 L107 171.4 L108 171.2 L109 170.9 L110 170.3 L111 169.6 L112 168.7 L113 167.9 L114 168 L115 167.2 L116 164.7 L117 163.1 L118 163.4 L119 163.5 L120 162.5 L121 160.2 L122 159.6 L123 157.7 L124 155.2 L125 155.2 L126 153.1 L127 149.7 L128 150 L129 151.5 L130 148.6 L131 148.1 L132 150.8 L133 149 L134 144.8 L135 142.7 L136 144.3 L137 142.4 L138 138.3 L139 136.4 L140 132.5 L141 132.1 L142 132 L143 126.2 L144 124.3 L145 127.4 L146 128.3 L147 128.4 L148 127.5 L149 121.1 L150 115.2 L151 120.2 L152 130.7 L153 133.2 L154 133.5 L155 126.8 L156 127 L157 134.8 L158 138.4 L159 137.8 L160 137 L161 134.3 L162 134.1 L163 132.3 L164 132.7 L165 133.7 L166 137.3 L167 142.4 L168 137.8 L169 135.5 L170 139.3 L171 140.7 L172 134.7 L173 134.8 L174 139.9 L175 139.8 L176 142.5 L177 144.4 L178 142.6 L179 143 L180.3 146.8" fill="none" stroke="#1966ad" stroke-width="2.6" stroke-linejoin="round" stroke-linecap="round"/>
<path d="M191.5 123 L192 122.1 L193 122.9 L194 122.3 L195 121.3 L196 116.9 L197 117 L198 120.9 L199 111.2 L200 107.6 L201 116.5 L202 113.6 L203 103.8 L204 100.4 L205 102.1 L206 108.1 L207 114.3 L208 116.4 L209 114.5 L210 116.1 L211 111 L212 108.6 L213 109.4 L214 108.4 L215 107.4 L216 99.8 L217 97.3 L218 98.9 L219 106.1 L220 107.2 L221 102.1 L222 98.3 L223 101.2 L224 103.4 L225 92.6 L226 99.2 L227 103.3 L228 97.4 L229 108.5 L230 113.6 L231 114.1 L232 120 L233 122.9 L234 118.7 L235 114.5 L236 114.6 L237 119.7 L238 125.2 L239 122.5 L240 118.1 L241 129.2 L242 131.3 L243 129.5 L244 132.8 L245 130.2 L246 126.9 L247 127.7 L248 138.1 L249 143.9 L250 138.8 L251 139.7 L252 142.2 L253 141.1 L254 147.4 L255 150 L256 151.2 L257 157.2 L258 152.9 L259 152.8 L260 157.4 L261 155.6 L262 156.2 L263 159.8 L264 160.4 L265 160.5 L266 163.7 L267 164 L268 162.5 L269 163 L270 164 L271 165.4 L272 165.8 L273 167 L274 168.7 L275 168.6 L276 170 L277 170.6 L278 171.3 L279 172.7 L280 173 L281 173.1 L282 173.1 L283 173.4 L284 174.1 L285 175 L286 175.9 L287 177.2 L288 178.1 L289 178.1 L290 178.5 L291 179.1 L292 179.5 L293 179.9 L294 180.5 L295 180.9 L296 181.2 L297 181.6 L298 182 L299 182.3 L300 182.6 L301 183 L302 183.1 L303 183.1 L304 183.3 L305 183.4 L306 183.5 L307 183.7 L308 183.7 L309 183.8 L310 183.8 L311 183.8 L312 183.9 L313 184 L314 184 L315 184 L316 184 L317 184 L318 184 L319 184 L320 184 L321 184 L322 184 L323 184 L324 184 L325 184 L326 184 L327 184 L328 184 L329 184 L330 184 L331 184.1 L332 184.1 L333 184.1 L334 184.1 L335 184.1" fill="none" stroke="#be151a" stroke-width="2.6" stroke-linejoin="round" stroke-linecap="round"/>
<path d="M53 184.2 L54 184.2 L55 184.2 L56 184.2 L57 184.2 L58 184.1 L59 184.1 L60 184 L61 183.9 L62 183.8 L63 183.7 L64 183.5 L65 183.4 L66 183.3 L67 183.1 L68 183 L69 182.9 L70 182.5 L71 182.2 L72 181.9 L73 181.5 L74 181.2 L75 180.9 L76 180.5 L77 180.2 L78 180.1 L79 179.8 L80 179.4 L81 179 L82 178.7 L83 178.4 L84 177.9 L85 177.6 L86 177.3 L87 176.9 L88 176.4 L89 176 L90 175.6 L91 175.1 L92 174.7 L93 174.2 L94 173.8 L95 173.4 L96 173.1 L97 172.8 L98 172.4 L99 171.8 L100 170.9 L101 170.2 L102 170 L103 169.6 L104 169.1 L105 168.7 L106 168.2 L107 167.7 L108 166.9 L109 166.7 L110 166.3 L111 165.1 L112 164.3 L113 164.4 L114 163.7 L115 160.5 L116 156.9 L117 156.8 L118 160.6 L119 160.5 L120 155.8 L121 153.4 L122 151.6 L123 149.1 L124 148 L125 147 L126 143.7 L127 142.9 L128 144.5 L129 141.9 L130 139.7 L131 142.9 L132 146.6 L133 143.4 L134 135.7 L135 130.8 L136 133 L137 131.2 L138 127.4 L139 126 L140 125.8 L141 124.8 L142 116.2 L143 113 L144 110.2 L145 115.6 L146 118.8 L147 114 L148 115.2 L149 103.3 L150 90.2 L151 109 L152 130.3 L153 126.4 L154 121.3 L155 113.9 L156 119.6 L157 126.1 L158 129.6 L159 129.3 L160 122.8 L161 118.7 L162 112.8 L163 106.5 L164 116.6 L165 118.3 L166 118.8 L167 131.7 L168 137.1 L169 124 L170 121.1 L171 123.8 L172 116.5 L173 125.5 L174 132.1 L175 124.8 L176 124.1 L177 129.8 L178 132.1 L179 131.5 L180.3 135.5" fill="none" stroke="#0a549e" stroke-width="2.6" stroke-linejoin="round" stroke-linecap="round"/>
<path d="M191.5 105.2 L192 101.1 L193 102.4 L194 103.2 L195 101 L196 101.1 L197 104.9 L198 101.5 L199 96.1 L200 98.7 L201 103 L202 100.3 L203 93.7 L204 82 L205 82.8 L206 99.6 L207 96.4 L208 92.1 L209 105.8 L210 110.8 L211 108.6 L212 113.4 L213 112.5 L214 108.5 L215 98 L216 81.8 L217 80.3 L218 77.3 L219 85.5 L220 97.4 L221 92.2 L222 83.5 L223 83.3 L224 80 L225 75.4 L226 99.4 L227 92.2 L228 75.9 L229 86.9 L230 90.8 L231 105.3 L232 107.4 L233 101.4 L234 97.8 L235 94.9 L236 102.8 L237 110.4 L238 108.9 L239 106.5 L240 104.6 L241 110.3 L242 119 L243 123.6 L244 121.9 L245 114.9 L246 112.7 L247 117.5 L248 127.1 L249 133.7 L250 130.6 L251 127.9 L252 130.8 L253 131.4 L254 134.8 L255 141 L256 143.9 L257 148.2 L258 146.6 L259 147.4 L260 148.3 L261 146.3 L262 150.6 L263 156.8 L264 156.4 L265 155.4 L266 160.3 L267 160.4 L268 157.4 L269 155.8 L270 158 L271 159.1 L272 159.6 L273 162.5 L274 164 L275 164.4 L276 166.5 L277 167.7 L278 168.3 L279 169.7 L280 169.1 L281 168.6 L282 169.9 L283 171.2 L284 172.2 L285 174.7 L286 175.8 L287 175.8 L288 175.7 L289 175.1 L290 176.6 L291 177.7 L292 177.7 L293 178.6 L294 179.5 L295 179.9 L296 180.2 L297 180.9 L298 181.7 L299 181.8 L300 182.1 L301 182.5 L302 182.7 L303 182.9 L304 183.1 L305 183.2 L306 183.3 L307 183.5 L308 183.5 L309 183.6 L310 183.7 L311 183.7 L312 183.8 L313 183.9 L314 183.9 L315 183.9 L316 183.9 L317 183.9 L318 183.9 L319 183.9 L320 183.9 L321 183.9 L322 183.9 L323 183.9 L324 183.9 L325 183.9 L326 184 L327 183.9 L328 183.9 L329 183.9 L330 184 L331 184 L332 184 L333 184 L334 184 L335 184" fill="none" stroke="#a91016" stroke-width="2.6" stroke-linejoin="round" stroke-linecap="round"/>
<path d="M53 184.2 L54 184.2 L55 184.2 L56 184.2 L57 184.1 L58 184 L59 184 L60 183.9 L61 183.8 L62 183.6 L63 183.5 L64 183.3 L65 183.1 L66 183 L67 182.8 L68 182.6 L69 182.5 L70 182.1 L71 181.7 L72 181.3 L73 180.9 L74 180.4 L75 180 L76 179.6 L77 179.2 L78 178.8 L79 178.3 L80 178 L81 177.5 L82 177.1 L83 176.8 L84 176.3 L85 175.9 L86 175.6 L87 175.1 L88 174.6 L89 174 L90 173.3 L91 172.7 L92 172.4 L93 171.9 L94 171.2 L95 170.8 L96 170 L97 169.6 L98 169.2 L99 168.2 L100 167.3 L101 166.8 L102 166.5 L103 165.7 L104 165 L105 164.7 L106 164.1 L107 163.7 L108 163.4 L109 163 L110 161.7 L111 159.5 L112 158.6 L113 158.3 L114 158.4 L115 156.5 L116 150.7 L117 148.9 L118 149.6 L119 150.7 L120 149.9 L121 143.5 L122 142.7 L123 142.2 L124 137.5 L125 135.2 L126 127.2 L127 123.1 L128 128.6 L129 128.5 L130 124 L131 127.6 L132 128.5 L133 117.4 L134 113.9 L135 116.2 L136 116.8 L137 109.9 L138 106.2 L139 105.7 L140 95.2 L141 94.7 L142 96.5 L143 90.1 L144 85.8 L145 92.6 L146 96.8 L147 88.7 L148 84.3 L149 71.3 L150 83.7 L151 100.4 L152 91.7 L153 84.6 L154 81.5 L155 79.3 L156 90.5 L157 96.5 L158 90.1 L159 91.3 L160 103.7 L161 95.8 L162 85.8 L163 98.7 L164 104.9 L165 93.1 L166 93.1 L167 111.6 L168 112.4 L169 96.3 L170 93.4 L171 102.6 L172 101.2 L173 96.8 L174 103.3 L175 107.8 L176 102.3 L177 104.1 L178 117.2 L179 119.3 L180.3 126.3" fill="none" stroke="#084285" stroke-width="2.6" stroke-linejoin="round" stroke-linecap="round"/>
<path d="M191.5 98.5 L192 97.3 L193 86 L194 83.2 L195 88 L196 79.2 L197 74.9 L198 88 L199 77.6 L200 67.2 L201 73.1 L202 60.1 L203 65.7 L204 72.1 L205 67.2 L206 77.5 L207 80.7 L208 82.4 L209 90.7 L210 83.9 L211 66.6 L212 72.5 L213 82.3 L214 86 L215 84.6 L216 75.3 L217 71.6 L218 63.4 L219 70.1 L220 71.8 L221 64.3 L222 62.4 L223 54.7 L224 55.5 L225 51.4 L226 48.7 L227 56.4 L228 64.2 L229 68.7 L230 75.4 L231 86.9 L232 87.9 L233 90.7 L234 98.1 L235 89.3 L236 76.7 L237 92.4 L238 104.4 L239 88.3 L240 79.6 L241 95.9 L242 102.1 L243 107.3 L244 112.1 L245 107.6 L246 101.2 L247 109.6 L248 130.4 L249 129 L250 116.3 L251 118.3 L252 121.9 L253 124.9 L254 136.1 L255 134.4 L256 133.2 L257 142.5 L258 141.5 L259 141.6 L260 143.3 L261 140.9 L262 143.2 L263 148.9 L264 147.7 L265 147.4 L266 150 L267 148.4 L268 149.9 L269 154.4 L270 154.8 L271 156 L272 157.2 L273 160.2 L274 163.7 L275 159.8 L276 160.6 L277 162.8 L278 163.7 L279 166.8 L280 167.1 L281 168.2 L282 169.6 L283 168.4 L284 168.7 L285 171 L286 173.3 L287 173.9 L288 174.6 L289 175.7 L290 176.6 L291 177.5 L292 177.9 L293 178.3 L294 178.9 L295 179.3 L296 179.9 L297 180.6 L298 180.8 L299 181.1 L300 181.8 L301 182.3 L302 182.4 L303 182.5 L304 182.7 L305 182.9 L306 183 L307 183.3 L308 183.3 L309 183.4 L310 183.5 L311 183.5 L312 183.6 L313 183.7 L314 183.7 L315 183.8 L316 183.8 L317 183.8 L318 183.8 L319 183.8 L320 183.8 L321 183.8 L322 183.8 L323 183.8 L324 183.8 L325 183.8 L326 183.8 L327 183.8 L328 183.8 L329 183.9 L330 183.8 L331 183.8 L332 183.9 L333 183.9 L334 183.9 L335 183.9" fill="none" stroke="#880811" stroke-width="2.6" stroke-linejoin="round" stroke-linecap="round"/>
<path d="M53 184.2 L54 184.2 L55 184.2 L56 184.1 L57 184 L58 183.9 L59 183.8 L60 183.7 L61 183.7 L62 183.4 L63 183.2 L64 183 L65 182.8 L66 182.6 L67 182.4 L68 182.2 L69 181.9 L70 181.4 L71 180.9 L72 180.5 L73 179.9 L74 179.3 L75 179 L76 178.4 L77 177.7 L78 177.4 L79 177 L80 176.5 L81 175.9 L82 175.2 L83 174.8 L84 174.1 L85 173.7 L86 173.1 L87 172.7 L88 172.1 L89 171.4 L90 170.4 L91 169.6 L92 169.4 L93 168.8 L94 168.1 L95 167.3 L96 166.5 L97 166.2 L98 165.7 L99 164.4 L100 163.1 L101 162.6 L102 162.2 L103 161.1 L104 160.4 L105 160 L106 158.6 L107 158.2 L108 157.9 L109 157 L110 155.6 L111 153.5 L112 152.1 L113 150.7 L114 150.9 L115 148.2 L116 142.3 L117 142.2 L118 142.4 L119 137.3 L120 134.4 L121 132.4 L122 135.6 L123 130.1 L124 121.2 L125 119.5 L126 117 L127 115.5 L128 115.7 L129 116.4 L130 115.8 L131 116.2 L132 117.3 L133 112.6 L134 95 L135 94.9 L136 106.4 L137 94.1 L138 85.8 L139 82.1 L140 68 L141 75 L142 79.6 L143 68 L144 59.6 L145 63.3 L146 67.1 L147 63.8 L148 68.9 L149 56.8 L150 43 L151 59 L152 73.8 L153 76.7 L154 82.6 L155 79.5 L156 69.5 L157 67.4 L158 77.9 L159 83.6 L160 78.4 L161 69.7 L162 82.6 L163 80.1 L164 75.9 L165 77.3 L166 80.2 L167 89.1 L168 82.6 L169 80.5 L170 74.1 L171 59.8 L172 66 L173 76.9 L174 83.8 L175 84.8 L176 93.4 L177 105.9 L178 95.3 L179 91.6 L180.3 103.2" fill="none" stroke="#08306b" stroke-width="2.6" stroke-linejoin="round" stroke-linecap="round"/>
<path d="M191.5 75.8 L192 68.8 L193 75.1 L194 84 L195 83.4 L196 63.6 L197 69.4 L198 94.5 L199 82.1 L200 62.1 L201 63.8 L202 55.5 L203 46.6 L204 46.5 L205 37.8 L206 28.2 L207 42.9 L208 60.4 L209 68.5 L210 68.2 L211 57.6 L212 64.6 L213 64.5 L214 70.4 L215 71.3 L216 60.4 L217 59.5 L218 39.9 L219 44.8 L220 52.9 L221 36.5 L222 48.2 L223 60.6 L224 58.1 L225 44.2 L226 51.8 L227 58.1 L228 45 L229 53.9 L230 63.2 L231 69.7 L232 72 L233 62.5 L234 58.7 L235 68.2 L236 69.8 L237 71 L238 76.2 L239 68.6 L240 60.3 L241 81.7 L242 94 L243 102 L244 99.9 L245 87.1 L246 91 L247 93.1 L248 106.9 L249 118.1 L250 105.4 L251 105.1 L252 104.9 L253 106.8 L254 125.4 L255 126.4 L256 120 L257 129.9 L258 130.7 L259 137.5 L260 142 L261 136.5 L262 140.4 L263 140.8 L264 141.1 L265 143.5 L266 148.7 L267 150.4 L268 147.9 L269 146.3 L270 148.2 L271 152.3 L272 156.4 L273 160.7 L274 160.6 L275 158.1 L276 159.3 L277 159.4 L278 160.5 L279 164.7 L280 165.8 L281 165.6 L282 166.7 L283 169.6 L284 170.3 L285 169.9 L286 171 L287 172.5 L288 174.5 L289 173.7 L290 174.4 L291 176.2 L292 176.2 L293 176.6 L294 177.8 L295 178.7 L296 179.4 L297 179.7 L298 180.1 L299 180.6 L300 181.5 L301 182.1 L302 182.2 L303 182.3 L304 182.7 L305 182.8 L306 182.8 L307 183 L308 183.2 L309 183.3 L310 183.4 L311 183.4 L312 183.5 L313 183.6 L314 183.6 L315 183.6 L316 183.6 L317 183.7 L318 183.7 L319 183.7 L320 183.7 L321 183.7 L322 183.7 L323 183.7 L324 183.7 L325 183.8 L326 183.8 L327 183.7 L328 183.7 L329 183.8 L330 183.8 L331 183.8 L332 183.8 L333 183.8 L334 183.8 L335 183.8" fill="none" stroke="#67000d" stroke-width="2.6" stroke-linejoin="round" stroke-linecap="round"/>
</g>
<rect x="180.2" y="14.5" width="11.4" height="170" fill="#3ac070" fill-opacity="0.78"/>
<text x="115.8" y="28" font-size="12.2" fill="#000">d</text>
<text x="122.5" y="30" font-size="7.5" font-style="italic" fill="#000">s</text>
<text x="139.9" y="28" font-size="12.2" fill="#000">c</text>
<text x="146.6" y="30" font-size="7.5" font-style="italic" fill="#000">s</text>
<text x="151.3" y="28" font-size="12.2" fill="#000">b</text>
<text x="158" y="30" font-size="7.5" font-style="italic" fill="#000">s</text>
<text x="168.3" y="28" font-size="12.2" fill="#000">a</text>
<text x="175" y="30" font-size="7.5" font-style="italic" fill="#000">s</text>
<text x="196.5" y="28" font-size="12.2" fill="#000">a</text>
<text x="203.2" y="30" font-size="7.5" font-style="italic" fill="#000">i</text>
<text x="213.7" y="28" font-size="12.2" fill="#000">b</text>
<text x="220.4" y="30" font-size="7.5" font-style="italic" fill="#000">i</text>
<text x="224.3" y="28" font-size="12.2" fill="#000">c</text>
<text x="231" y="30" font-size="7.5" font-style="italic" fill="#000">i</text>
<text x="255.3" y="28" font-size="12.2" fill="#000">d</text>
<text x="262" y="30" font-size="7.5" font-style="italic" fill="#000">i</text>
<path d="M53 184.5 V14.5 H335.5 V184.5" fill="none" stroke="#000" stroke-width="0.8"/>
<line x1="53" y1="184.5" x2="55.2" y2="184.5" stroke="#222" stroke-width="0.8"/>
<text x="46.9" y="187.8" font-size="9.5" text-anchor="end" textLength="5.5" lengthAdjust="spacingAndGlyphs" fill="#000">0</text>
<line x1="53" y1="150.5" x2="55.2" y2="150.5" stroke="#222" stroke-width="0.8"/>
<text x="46.9" y="153.8" font-size="9.5" text-anchor="end" textLength="11.01" lengthAdjust="spacingAndGlyphs" fill="#000">20</text>
<line x1="53" y1="116.5" x2="55.2" y2="116.5" stroke="#222" stroke-width="0.8"/>
<text x="46.9" y="119.8" font-size="9.5" text-anchor="end" textLength="11.01" lengthAdjust="spacingAndGlyphs" fill="#000">40</text>
<line x1="53" y1="82.5" x2="55.2" y2="82.5" stroke="#222" stroke-width="0.8"/>
<text x="46.9" y="85.8" font-size="9.5" text-anchor="end" textLength="11.01" lengthAdjust="spacingAndGlyphs" fill="#000">60</text>
<line x1="53" y1="48.5" x2="55.2" y2="48.5" stroke="#222" stroke-width="0.8"/>
<text x="46.9" y="51.8" font-size="9.5" text-anchor="end" textLength="11.01" lengthAdjust="spacingAndGlyphs" fill="#000">80</text>
<line x1="53" y1="14.5" x2="55.2" y2="14.5" stroke="#222" stroke-width="0.8"/>
<text x="46.9" y="17.8" font-size="9.5" text-anchor="end" textLength="16.51" lengthAdjust="spacingAndGlyphs" fill="#000">100</text>
<text x="0" y="0" font-size="13" text-anchor="middle" textLength="102" lengthAdjust="spacingAndGlyphs" fill="#000" transform="translate(25.2 99.2) rotate(-90)">Count Rate (kHz)</text>
<rect x="291.4" y="17.4" width="40.4" height="149.2" rx="2" fill="#fff" fill-opacity="0.85" stroke="#d6d6d6" stroke-width="0.9"/>
<text x="294.3" y="28.2" font-size="10.5" font-style="italic" font-family='"Liberation Serif", serif' fill="#000">P</text>
<text x="300.6" y="29.7" font-size="7.2" textLength="5.4" lengthAdjust="spacingAndGlyphs" font-style="italic" font-family='"Liberation Serif", serif' fill="#000">in</text>
<text x="306.6" y="28.2" font-size="10.5" font-family='"Liberation Serif", serif' fill="#000">(</text>
<text x="310" y="28.2" font-size="10.5" textLength="15.6" lengthAdjust="spacingAndGlyphs" font-style="italic" font-family='"Liberation Serif", serif' fill="#000">mW</text>
<text x="325.8" y="28.2" font-size="10.5" font-family='"Liberation Serif", serif' fill="#000">)</text>
<line x1="294.2" y1="35" x2="301.8" y2="35" stroke="#fee5d8" stroke-width="2.3"/>
<line x1="301.8" y1="35" x2="309.4" y2="35" stroke="#e3eef9" stroke-width="2.3"/>
<text x="314" y="37.6" font-size="7.3" textLength="14.14" lengthAdjust="spacingAndGlyphs" fill="#000">0.03</text>
<line x1="294.2" y1="44.68" x2="301.8" y2="44.68" stroke="#fdd3c1" stroke-width="2.3"/>
<line x1="301.8" y1="44.68" x2="309.4" y2="44.68" stroke="#d6e5f4" stroke-width="2.3"/>
<text x="314" y="47.28" font-size="7.3" textLength="14.14" lengthAdjust="spacingAndGlyphs" fill="#000">0.07</text>
<line x1="294.2" y1="54.36" x2="301.8" y2="54.36" stroke="#fcbea5" stroke-width="2.3"/>
<line x1="301.8" y1="54.36" x2="309.4" y2="54.36" stroke="#c8dcf0" stroke-width="2.3"/>
<text x="314" y="56.96" font-size="7.3" textLength="14.14" lengthAdjust="spacingAndGlyphs" fill="#000">0.14</text>
<line x1="294.2" y1="64.04" x2="301.8" y2="64.04" stroke="#fca98c" stroke-width="2.3"/>
<line x1="301.8" y1="64.04" x2="309.4" y2="64.04" stroke="#b4d3e9" stroke-width="2.3"/>
<text x="314" y="66.64" font-size="7.3" textLength="14.14" lengthAdjust="spacingAndGlyphs" fill="#000">0.28</text>
<line x1="294.2" y1="73.72" x2="301.8" y2="73.72" stroke="#fc9272" stroke-width="2.3"/>
<line x1="301.8" y1="73.72" x2="309.4" y2="73.72" stroke="#9dcae1" stroke-width="2.3"/>
<text x="314" y="76.32" font-size="7.3" textLength="14.14" lengthAdjust="spacingAndGlyphs" fill="#000">0.35</text>
<line x1="294.2" y1="83.4" x2="301.8" y2="83.4" stroke="#fb7b5b" stroke-width="2.3"/>
<line x1="301.8" y1="83.4" x2="309.4" y2="83.4" stroke="#81badb" stroke-width="2.3"/>
<text x="314" y="86" font-size="7.3" textLength="14.14" lengthAdjust="spacingAndGlyphs" fill="#000">0.69</text>
<line x1="294.2" y1="93.08" x2="301.8" y2="93.08" stroke="#fa6547" stroke-width="2.3"/>
<line x1="301.8" y1="93.08" x2="309.4" y2="93.08" stroke="#66abd4" stroke-width="2.3"/>
<text x="314" y="95.68" font-size="7.3" textLength="14.14" lengthAdjust="spacingAndGlyphs" fill="#000">1.73</text>
<line x1="294.2" y1="102.76" x2="301.8" y2="102.76" stroke="#f34a36" stroke-width="2.3"/>
<line x1="301.8" y1="102.76" x2="309.4" y2="102.76" stroke="#4f9bcb" stroke-width="2.3"/>
<text x="314" y="105.36" font-size="7.3" textLength="14.14" lengthAdjust="spacingAndGlyphs" fill="#000">3.47</text>
<line x1="294.2" y1="112.44" x2="301.8" y2="112.44" stroke="#e63328" stroke-width="2.3"/>
<line x1="301.8" y1="112.44" x2="309.4" y2="112.44" stroke="#3a8ac2" stroke-width="2.3"/>
<text x="314" y="115.04" font-size="7.3" textLength="10.1" lengthAdjust="spacingAndGlyphs" fill="#000">5.2</text>
<line x1="294.2" y1="122.12" x2="301.8" y2="122.12" stroke="#d21f20" stroke-width="2.3"/>
<line x1="301.8" y1="122.12" x2="309.4" y2="122.12" stroke="#2777b8" stroke-width="2.3"/>
<text x="314" y="124.72" font-size="7.3" textLength="14.14" lengthAdjust="spacingAndGlyphs" fill="#000">6.93</text>
<line x1="294.2" y1="131.8" x2="301.8" y2="131.8" stroke="#be151a" stroke-width="2.3"/>
<line x1="301.8" y1="131.8" x2="309.4" y2="131.8" stroke="#1966ad" stroke-width="2.3"/>
<text x="314" y="134.4" font-size="7.3" textLength="14.14" lengthAdjust="spacingAndGlyphs" fill="#000">9.36</text>
<line x1="294.2" y1="141.48" x2="301.8" y2="141.48" stroke="#a91016" stroke-width="2.3"/>
<line x1="301.8" y1="141.48" x2="309.4" y2="141.48" stroke="#0a549e" stroke-width="2.3"/>
<text x="314" y="144.08" font-size="7.3" textLength="14.14" lengthAdjust="spacingAndGlyphs" fill="#000">13.5</text>
<line x1="294.2" y1="151.16" x2="301.8" y2="151.16" stroke="#880811" stroke-width="2.3"/>
<line x1="301.8" y1="151.16" x2="309.4" y2="151.16" stroke="#084285" stroke-width="2.3"/>
<text x="314" y="153.76" font-size="7.3" textLength="14.14" lengthAdjust="spacingAndGlyphs" fill="#000">17.8</text>
<line x1="294.2" y1="160.84" x2="301.8" y2="160.84" stroke="#67000d" stroke-width="2.3"/>
<line x1="301.8" y1="160.84" x2="309.4" y2="160.84" stroke="#08306b" stroke-width="2.3"/>
<text x="314" y="163.44" font-size="7.3" textLength="14.14" lengthAdjust="spacingAndGlyphs" fill="#000">22.4</text>
<line x1="109.5" y1="196.5" x2="109.5" y2="269.2" stroke="#c9c9c9" stroke-width="1"/>
<line x1="166" y1="196.5" x2="166" y2="269.2" stroke="#c9c9c9" stroke-width="1"/>
<line x1="222.5" y1="196.5" x2="222.5" y2="269.2" stroke="#c9c9c9" stroke-width="1"/>
<line x1="279" y1="196.5" x2="279" y2="269.2" stroke="#c9c9c9" stroke-width="1"/>
<line x1="53" y1="266.2" x2="335.5" y2="266.2" stroke="#c9c9c9" stroke-width="1"/>
<line x1="53" y1="246.3" x2="335.5" y2="246.3" stroke="#c9c9c9" stroke-width="1"/>
<line x1="53" y1="226.4" x2="335.5" y2="226.4" stroke="#c9c9c9" stroke-width="1"/>
<line x1="53" y1="206.5" x2="335.5" y2="206.5" stroke="#c9c9c9" stroke-width="1"/>
<path d="M80.5 236.3 L80.8 235 L81.3 233.2 L81.8 231.1 L82.4 228.9 L83 226.7 L83.7 224.8 L84.4 223.1 L85.2 221.6 L86.1 220 L87 218.6 L87.9 217.3 L88.7 216.1 L89.5 215 L90.3 214.1 L91.1 213.3 L92 212.5 L92.8 211.8 L93.6 211.1 L94.4 210.4 L95.3 209.7 L96.1 209.1 L96.9 208.6 L97.8 208.2 L98.6 207.9 L99.4 207.9 L100.2 208 L101 208.3 L101.8 208.6 L102.7 208.8 L103.6 208.9 L104.6 208.8 L105.6 208.6 L106.6 208.4 L107.7 208.1 L108.8 207.7 L109.8 207.4 L110.8 207.1 L111.8 206.7 L112.8 206.3 L113.8 205.9 L114.9 205.4 L116 204.9 L117.2 204.3 L118.5 203.6 L119.8 202.9 L121.1 202.2 L122.3 201.6 L123.4 201.2 L124.4 201 L125.2 200.9 L126 200.9 L126.7 201 L127.5 201.1 L128.4 201.2 L129.4 201.3 L130.4 201.3 L131.4 201.4 L132.5 201.5 L133.6 201.7 L134.6 202 L135.6 202.4 L136.7 202.8 L137.8 203.3 L138.8 203.9 L139.8 204.4 L140.8 204.9 L141.7 205.4 L142.6 205.8 L143.4 206.2 L144.2 206.7 L145 207.1 L145.8 207.4 L146.6 207.7 L147.5 208 L148.3 208.3 L149.1 208.5 L150 208.7 L150.8 208.7 L151.6 208.6 L152.4 208.3 L153.2 208 L154.1 207.6 L154.9 207.2 L155.7 206.9 L156.5 206.6 L157.4 206.3 L158.3 205.9 L159.1 205.7 L159.9 205.5 L160.7 205.4 L161.4 205.4 L162 205.5 L162.5 205.6 L163.1 205.9 L163.7 206.3 L164.4 206.9 L165.2 207.7 L166 208.6 L166.8 209.6 L167.7 210.8 L168.6 212.2 L169.4 213.6 L170.2 215.2 L171.1 217 L171.9 218.8 L172.7 220.8 L173.6 222.8 L174.4 224.8 L175.2 226.8 L176 228.9 L176.8 231 L177.7 233.1 L178.5 235.2 L179.3 237.2 L180.1 239.2 L181 241.1 L181.8 243.1 L182.6 244.9 L183.5 246.7 L184.3 248.4 L185.1 250 L186 251.5 L186.8 252.9 L187.6 254.2 L188.5 255.5 L189.3 256.6 L190.1 257.6 L190.9 258.5 L191.6 259.4 L192.4 260.1 L193.3 260.9 L194.3 261.6 L195.3 262.3 L196.3 263.1 L197.4 263.8 L198.7 264.4 L200.3 264.9 L202.4 265.4 L204.8 265.7 L207.5 266 L210.5 266.1 L213.9 266.2 L217.8 266.3 L222.3 266.4 L227.6 266.5 L233.9 266.5 L240.6 266.5 L247.4 266.5 L253.8 266.4 L259.5 266.4 L264.5 266.4 L269.3 266.4 L273.7 266.4 L277.7 266.3 L281.3 266.2 L284.4 265.9 L286.9 265.5 L288.9 265.1 L290.4 264.5 L291.7 263.9 L293 263.1 L294.3 262.1 L295.7 260.9 L297.1 259.6 L298.3 258 L299.5 256.5 L300.7 254.9 L301.8 253.4 L302.9 251.9 L304 250.2 L305 248.6 L305.9 247.1 L306.7 245.8 L307.3 244.9" fill="none" stroke="#1f77b4" stroke-width="2" stroke-linejoin="round" stroke-linecap="round"/>
<path d="M83.3 263.9 L84 264.1 L84.9 264.4 L86 264.7 L87.3 265 L88.6 265.3 L90 265.5 L91.3 265.7 L92.5 265.8 L93.8 265.9 L95.3 266 L97.3 266 L99.8 266.1 L102.9 266.2 L106.5 266.2 L110.5 266.3 L114.9 266.3 L119.7 266.3 L124.7 266.3 L130.5 266.3 L137.2 266.2 L144.3 266.2 L151.1 266.1 L157.2 266 L162 265.9 L165.3 265.8 L167.5 265.6 L169 265.5 L170 265.3 L170.9 265 L171.9 264.6 L173 264.2 L173.9 263.7 L174.7 263.1 L175.4 262.4 L176.1 261.7 L176.9 260.8 L177.7 259.8 L178.5 258.7 L179.3 257.5 L180.2 256.2 L181 254.8 L181.8 253.4 L182.6 251.9 L183.5 250.2 L184.4 248.4 L185.3 246.6 L186.1 244.9 L186.8 243.4 L187.4 242.1 L187.9 240.9 L188.4 239.8 L188.9 238.7 L189.4 237.4 L190 236 L190.7 234.4 L191.5 232.5 L192.3 230.6 L193.2 228.7 L194.1 226.7 L194.9 224.8 L195.7 222.9 L196.6 221 L197.4 219 L198.2 217.1 L199.1 215.3 L199.9 213.6 L200.7 212 L201.6 210.4 L202.4 208.8 L203.2 207.4 L204.1 206.1 L204.9 204.9 L205.7 203.9 L206.6 203 L207.4 202.2 L208.3 201.6 L209 201 L209.8 200.5 L210.5 200.1 L211.1 199.8 L211.7 199.6 L212.3 199.4 L212.9 199.4 L213.6 199.5 L214.4 199.7 L215.1 200.1 L216 200.6 L216.8 201.1 L217.7 201.6 L218.5 202 L219.3 202.4 L220.2 202.7 L221 203.1 L221.8 203.3 L222.7 203.6 L223.5 203.7 L224.3 203.7 L225.2 203.5 L226.1 203.3 L226.9 203.1 L227.7 203 L228.5 203 L229.2 203.2 L229.8 203.6 L230.4 204 L231 204.4 L231.6 204.7 L232.2 204.9 L232.8 204.9 L233.4 204.6 L234 204.3 L234.7 204 L235.3 203.8 L235.9 203.7 L236.5 203.8 L237.1 204 L237.7 204.3 L238.3 204.6 L239 204.8 L239.7 204.9 L240.5 204.8 L241.2 204.7 L242.1 204.5 L242.9 204.2 L243.8 204 L244.6 203.7 L245.4 203.4 L246.3 203.1 L247.1 202.8 L247.9 202.5 L248.8 202.2 L249.6 202 L250.4 201.9 L251.3 201.7 L252.1 201.6 L252.9 201.6 L253.8 201.7 L254.6 202 L255.4 202.5 L256.2 203.1 L257.1 203.8 L257.9 204.6 L258.7 205.5 L259.5 206.2 L260.3 206.9 L261.2 207.7 L262 208.4 L262.8 209.2 L263.7 209.8 L264.5 210.4 L265.3 210.9 L266.2 211.3 L267 211.7 L267.8 212 L268.7 212.2 L269.5 212.4 L270.3 212.5 L271.1 212.4 L271.9 212.3 L272.8 212.2 L273.6 212 L274.4 211.9 L275.2 211.7 L276.1 211.5 L276.9 211.3 L277.7 211.1 L278.6 211 L279.4 211.1 L280.2 211.3 L281.1 211.6 L281.9 211.9 L282.7 212.4 L283.6 212.9 L284.4 213.6 L285.2 214.4 L286 215.3 L286.8 216.2 L287.7 217.3 L288.5 218.5 L289.3 219.8 L290.1 221.2 L291 222.9 L291.8 224.6 L292.6 226.3 L293.5 228.1 L294.3 229.8 L295.1 231.4 L295.9 233.1 L296.8 234.7 L297.6 236.3 L298.4 238 L299.3 239.7 L300.2 241.5 L301.2 243.5 L302.1 245.5 L303.1 247.5 L304 249.3 L305 250.9 L306 252.3 L307.1 253.6 L308.2 254.8 L309.2 255.7 L310 256.6 L310.6 257.2" fill="none" stroke="#d62728" stroke-width="2" stroke-linejoin="round" stroke-linecap="round"/>
<rect x="62.4" y="241.3" width="65.7" height="19.8" rx="1.6" fill="#fff" fill-opacity="0.85" stroke="#dcdcdc" stroke-width="0.9"/>
<line x1="64.1" y1="246.7" x2="77.9" y2="246.7" stroke="#1f77b4" stroke-width="1.8"/>
<line x1="64.1" y1="254.9" x2="77.9" y2="254.9" stroke="#d62728" stroke-width="1.8"/>
<text x="81.9" y="249" font-size="6.7" textLength="43.8" lengthAdjust="spacingAndGlyphs" fill="#000">Signal channel</text>
<text x="81.9" y="257.2" font-size="6.7" textLength="38" lengthAdjust="spacingAndGlyphs" fill="#000">Idler channel</text>
<rect x="53" y="196.5" width="282.5" height="72.7" fill="none" stroke="#000" stroke-width="0.8"/>
<line x1="53" y1="266.2" x2="55.2" y2="266.2" stroke="#222" stroke-width="0.8"/>
<text x="49.9" y="269.5" font-size="9.4" text-anchor="end" textLength="19.15" lengthAdjust="spacingAndGlyphs" fill="#000">0.00</text>
<line x1="53" y1="246.3" x2="55.2" y2="246.3" stroke="#222" stroke-width="0.8"/>
<text x="49.9" y="249.6" font-size="9.4" text-anchor="end" textLength="19.15" lengthAdjust="spacingAndGlyphs" fill="#000">0.25</text>
<line x1="53" y1="226.4" x2="55.2" y2="226.4" stroke="#222" stroke-width="0.8"/>
<text x="49.9" y="229.7" font-size="9.4" text-anchor="end" textLength="19.15" lengthAdjust="spacingAndGlyphs" fill="#000">0.50</text>
<line x1="53" y1="206.5" x2="55.2" y2="206.5" stroke="#222" stroke-width="0.8"/>
<text x="49.9" y="209.8" font-size="9.4" text-anchor="end" textLength="19.15" lengthAdjust="spacingAndGlyphs" fill="#000">0.75</text>
<line x1="53" y1="269.2" x2="53" y2="266.7" stroke="#222" stroke-width="0.8"/>
<text x="53" y="278.8" font-size="9.6" text-anchor="middle" textLength="22.27" lengthAdjust="spacingAndGlyphs" fill="#000">1500</text>
<line x1="109.5" y1="269.2" x2="109.5" y2="266.7" stroke="#222" stroke-width="0.8"/>
<text x="109.5" y="278.8" font-size="9.6" text-anchor="middle" textLength="22.27" lengthAdjust="spacingAndGlyphs" fill="#000">1520</text>
<line x1="166" y1="269.2" x2="166" y2="266.7" stroke="#222" stroke-width="0.8"/>
<text x="166" y="278.8" font-size="9.6" text-anchor="middle" textLength="22.27" lengthAdjust="spacingAndGlyphs" fill="#000">1540</text>
<line x1="222.5" y1="269.2" x2="222.5" y2="266.7" stroke="#222" stroke-width="0.8"/>
<text x="222.5" y="278.8" font-size="9.6" text-anchor="middle" textLength="22.27" lengthAdjust="spacingAndGlyphs" fill="#000">1560</text>
<line x1="279" y1="269.2" x2="279" y2="266.7" stroke="#222" stroke-width="0.8"/>
<text x="279" y="278.8" font-size="9.6" text-anchor="middle" textLength="22.27" lengthAdjust="spacingAndGlyphs" fill="#000">1580</text>
<line x1="335.5" y1="269.2" x2="335.5" y2="266.7" stroke="#222" stroke-width="0.8"/>
<text x="335.5" y="278.8" font-size="9.6" text-anchor="middle" textLength="22.27" lengthAdjust="spacingAndGlyphs" fill="#000">1600</text>
<text x="194.2" y="291.8" font-size="13.3" text-anchor="middle" textLength="102.3" lengthAdjust="spacingAndGlyphs" fill="#000">Wavelength (nm)</text>
<text x="0" y="0" font-size="10.9" text-anchor="middle" textLength="136.2" lengthAdjust="spacingAndGlyphs" fill="#000" transform="translate(26.3 232.6) rotate(-90)">DEMUX Transmission (a.u.)</text>
<text x="-1.2" y="23" font-size="26.5" fill="#000">a)</text>
<text x="348.8" y="23" font-size="26.5" fill="#000">b)</text>
<g clip-path="url(#clipR)">
<line x1="401.55" y1="14.5" x2="401.55" y2="269.4" stroke="#ececec" stroke-width="0.9" stroke-dasharray="2.6 1.2"/>
<line x1="412.72" y1="14.5" x2="412.72" y2="269.4" stroke="#ececec" stroke-width="0.9" stroke-dasharray="2.6 1.2"/>
<line x1="421.39" y1="14.5" x2="421.39" y2="269.4" stroke="#ececec" stroke-width="0.9" stroke-dasharray="2.6 1.2"/>
<line x1="428.47" y1="14.5" x2="428.47" y2="269.4" stroke="#ececec" stroke-width="0.9" stroke-dasharray="2.6 1.2"/>
<line x1="434.45" y1="14.5" x2="434.45" y2="269.4" stroke="#ececec" stroke-width="0.9" stroke-dasharray="2.6 1.2"/>
<line x1="439.64" y1="14.5" x2="439.64" y2="269.4" stroke="#ececec" stroke-width="0.9" stroke-dasharray="2.6 1.2"/>
<line x1="444.21" y1="14.5" x2="444.21" y2="269.4" stroke="#ececec" stroke-width="0.9" stroke-dasharray="2.6 1.2"/>
<line x1="475.21" y1="14.5" x2="475.21" y2="269.4" stroke="#ececec" stroke-width="0.9" stroke-dasharray="2.6 1.2"/>
<line x1="490.95" y1="14.5" x2="490.95" y2="269.4" stroke="#ececec" stroke-width="0.9" stroke-dasharray="2.6 1.2"/>
<line x1="502.12" y1="14.5" x2="502.12" y2="269.4" stroke="#ececec" stroke-width="0.9" stroke-dasharray="2.6 1.2"/>
<line x1="510.79" y1="14.5" x2="510.79" y2="269.4" stroke="#ececec" stroke-width="0.9" stroke-dasharray="2.6 1.2"/>
<line x1="517.87" y1="14.5" x2="517.87" y2="269.4" stroke="#ececec" stroke-width="0.9" stroke-dasharray="2.6 1.2"/>
<line x1="523.85" y1="14.5" x2="523.85" y2="269.4" stroke="#ececec" stroke-width="0.9" stroke-dasharray="2.6 1.2"/>
<line x1="529.04" y1="14.5" x2="529.04" y2="269.4" stroke="#ececec" stroke-width="0.9" stroke-dasharray="2.6 1.2"/>
<line x1="533.61" y1="14.5" x2="533.61" y2="269.4" stroke="#ececec" stroke-width="0.9" stroke-dasharray="2.6 1.2"/>
<line x1="564.61" y1="14.5" x2="564.61" y2="269.4" stroke="#ececec" stroke-width="0.9" stroke-dasharray="2.6 1.2"/>
<line x1="580.35" y1="14.5" x2="580.35" y2="269.4" stroke="#ececec" stroke-width="0.9" stroke-dasharray="2.6 1.2"/>
<line x1="591.52" y1="14.5" x2="591.52" y2="269.4" stroke="#ececec" stroke-width="0.9" stroke-dasharray="2.6 1.2"/>
<line x1="600.19" y1="14.5" x2="600.19" y2="269.4" stroke="#ececec" stroke-width="0.9" stroke-dasharray="2.6 1.2"/>
<line x1="607.27" y1="14.5" x2="607.27" y2="269.4" stroke="#ececec" stroke-width="0.9" stroke-dasharray="2.6 1.2"/>
<line x1="613.25" y1="14.5" x2="613.25" y2="269.4" stroke="#ececec" stroke-width="0.9" stroke-dasharray="2.6 1.2"/>
<line x1="618.44" y1="14.5" x2="618.44" y2="269.4" stroke="#ececec" stroke-width="0.9" stroke-dasharray="2.6 1.2"/>
<line x1="623.01" y1="14.5" x2="623.01" y2="269.4" stroke="#ececec" stroke-width="0.9" stroke-dasharray="2.6 1.2"/>
<line x1="654.01" y1="14.5" x2="654.01" y2="269.4" stroke="#ececec" stroke-width="0.9" stroke-dasharray="2.6 1.2"/>
<line x1="669.75" y1="14.5" x2="669.75" y2="269.4" stroke="#ececec" stroke-width="0.9" stroke-dasharray="2.6 1.2"/>
<line x1="391" y1="257.72" x2="678.6" y2="257.72" stroke="#ececec" stroke-width="0.9" stroke-dasharray="2.6 1.2"/>
<line x1="391" y1="250.89" x2="678.6" y2="250.89" stroke="#ececec" stroke-width="0.9" stroke-dasharray="2.6 1.2"/>
<line x1="391" y1="246.04" x2="678.6" y2="246.04" stroke="#ececec" stroke-width="0.9" stroke-dasharray="2.6 1.2"/>
<line x1="391" y1="242.28" x2="678.6" y2="242.28" stroke="#ececec" stroke-width="0.9" stroke-dasharray="2.6 1.2"/>
<line x1="391" y1="239.21" x2="678.6" y2="239.21" stroke="#ececec" stroke-width="0.9" stroke-dasharray="2.6 1.2"/>
<line x1="391" y1="236.61" x2="678.6" y2="236.61" stroke="#ececec" stroke-width="0.9" stroke-dasharray="2.6 1.2"/>
<line x1="391" y1="234.36" x2="678.6" y2="234.36" stroke="#ececec" stroke-width="0.9" stroke-dasharray="2.6 1.2"/>
<line x1="391" y1="232.38" x2="678.6" y2="232.38" stroke="#ececec" stroke-width="0.9" stroke-dasharray="2.6 1.2"/>
<line x1="391" y1="218.92" x2="678.6" y2="218.92" stroke="#ececec" stroke-width="0.9" stroke-dasharray="2.6 1.2"/>
<line x1="391" y1="212.09" x2="678.6" y2="212.09" stroke="#ececec" stroke-width="0.9" stroke-dasharray="2.6 1.2"/>
<line x1="391" y1="207.24" x2="678.6" y2="207.24" stroke="#ececec" stroke-width="0.9" stroke-dasharray="2.6 1.2"/>
<line x1="391" y1="203.48" x2="678.6" y2="203.48" stroke="#ececec" stroke-width="0.9" stroke-dasharray="2.6 1.2"/>
<line x1="391" y1="200.41" x2="678.6" y2="200.41" stroke="#ececec" stroke-width="0.9" stroke-dasharray="2.6 1.2"/>
<line x1="391" y1="197.81" x2="678.6" y2="197.81" stroke="#ececec" stroke-width="0.9" stroke-dasharray="2.6 1.2"/>
<line x1="391" y1="195.56" x2="678.6" y2="195.56" stroke="#ececec" stroke-width="0.9" stroke-dasharray="2.6 1.2"/>
<line x1="391" y1="193.58" x2="678.6" y2="193.58" stroke="#ececec" stroke-width="0.9" stroke-dasharray="2.6 1.2"/>
<line x1="391" y1="180.12" x2="678.6" y2="180.12" stroke="#ececec" stroke-width="0.9" stroke-dasharray="2.6 1.2"/>
<line x1="391" y1="173.29" x2="678.6" y2="173.29" stroke="#ececec" stroke-width="0.9" stroke-dasharray="2.6 1.2"/>
<line x1="391" y1="168.44" x2="678.6" y2="168.44" stroke="#ececec" stroke-width="0.9" stroke-dasharray="2.6 1.2"/>
<line x1="391" y1="164.68" x2="678.6" y2="164.68" stroke="#ececec" stroke-width="0.9" stroke-dasharray="2.6 1.2"/>
<line x1="391" y1="161.61" x2="678.6" y2="161.61" stroke="#ececec" stroke-width="0.9" stroke-dasharray="2.6 1.2"/>
<line x1="391" y1="159.01" x2="678.6" y2="159.01" stroke="#ececec" stroke-width="0.9" stroke-dasharray="2.6 1.2"/>
<line x1="391" y1="156.76" x2="678.6" y2="156.76" stroke="#ececec" stroke-width="0.9" stroke-dasharray="2.6 1.2"/>
<line x1="391" y1="154.78" x2="678.6" y2="154.78" stroke="#ececec" stroke-width="0.9" stroke-dasharray="2.6 1.2"/>
<line x1="391" y1="141.32" x2="678.6" y2="141.32" stroke="#ececec" stroke-width="0.9" stroke-dasharray="2.6 1.2"/>
<line x1="391" y1="134.49" x2="678.6" y2="134.49" stroke="#ececec" stroke-width="0.9" stroke-dasharray="2.6 1.2"/>
<line x1="391" y1="129.64" x2="678.6" y2="129.64" stroke="#ececec" stroke-width="0.9" stroke-dasharray="2.6 1.2"/>
<line x1="391" y1="125.88" x2="678.6" y2="125.88" stroke="#ececec" stroke-width="0.9" stroke-dasharray="2.6 1.2"/>
<line x1="391" y1="122.81" x2="678.6" y2="122.81" stroke="#ececec" stroke-width="0.9" stroke-dasharray="2.6 1.2"/>
<line x1="391" y1="120.21" x2="678.6" y2="120.21" stroke="#ececec" stroke-width="0.9" stroke-dasharray="2.6 1.2"/>
<line x1="391" y1="117.96" x2="678.6" y2="117.96" stroke="#ececec" stroke-width="0.9" stroke-dasharray="2.6 1.2"/>
<line x1="391" y1="115.98" x2="678.6" y2="115.98" stroke="#ececec" stroke-width="0.9" stroke-dasharray="2.6 1.2"/>
<line x1="391" y1="102.52" x2="678.6" y2="102.52" stroke="#ececec" stroke-width="0.9" stroke-dasharray="2.6 1.2"/>
<line x1="391" y1="95.69" x2="678.6" y2="95.69" stroke="#ececec" stroke-width="0.9" stroke-dasharray="2.6 1.2"/>
<line x1="391" y1="90.84" x2="678.6" y2="90.84" stroke="#ececec" stroke-width="0.9" stroke-dasharray="2.6 1.2"/>
<line x1="391" y1="87.08" x2="678.6" y2="87.08" stroke="#ececec" stroke-width="0.9" stroke-dasharray="2.6 1.2"/>
<line x1="391" y1="84.01" x2="678.6" y2="84.01" stroke="#ececec" stroke-width="0.9" stroke-dasharray="2.6 1.2"/>
<line x1="391" y1="81.41" x2="678.6" y2="81.41" stroke="#ececec" stroke-width="0.9" stroke-dasharray="2.6 1.2"/>
<line x1="391" y1="79.16" x2="678.6" y2="79.16" stroke="#ececec" stroke-width="0.9" stroke-dasharray="2.6 1.2"/>
<line x1="391" y1="77.18" x2="678.6" y2="77.18" stroke="#ececec" stroke-width="0.9" stroke-dasharray="2.6 1.2"/>
<line x1="391" y1="63.72" x2="678.6" y2="63.72" stroke="#ececec" stroke-width="0.9" stroke-dasharray="2.6 1.2"/>
<line x1="391" y1="56.89" x2="678.6" y2="56.89" stroke="#ececec" stroke-width="0.9" stroke-dasharray="2.6 1.2"/>
<line x1="391" y1="52.04" x2="678.6" y2="52.04" stroke="#ececec" stroke-width="0.9" stroke-dasharray="2.6 1.2"/>
<line x1="391" y1="48.28" x2="678.6" y2="48.28" stroke="#ececec" stroke-width="0.9" stroke-dasharray="2.6 1.2"/>
<line x1="391" y1="45.21" x2="678.6" y2="45.21" stroke="#ececec" stroke-width="0.9" stroke-dasharray="2.6 1.2"/>
<line x1="391" y1="42.61" x2="678.6" y2="42.61" stroke="#ececec" stroke-width="0.9" stroke-dasharray="2.6 1.2"/>
<line x1="391" y1="40.36" x2="678.6" y2="40.36" stroke="#ececec" stroke-width="0.9" stroke-dasharray="2.6 1.2"/>
<line x1="391" y1="38.38" x2="678.6" y2="38.38" stroke="#ececec" stroke-width="0.9" stroke-dasharray="2.6 1.2"/>
<line x1="391" y1="24.92" x2="678.6" y2="24.92" stroke="#ececec" stroke-width="0.9" stroke-dasharray="2.6 1.2"/>
<line x1="391" y1="18.09" x2="678.6" y2="18.09" stroke="#ececec" stroke-width="0.9" stroke-dasharray="2.6 1.2"/>
<line x1="448.3" y1="14.5" x2="448.3" y2="269.4" stroke="#d8d8d8" stroke-width="1.2"/>
<line x1="537.7" y1="14.5" x2="537.7" y2="269.4" stroke="#d8d8d8" stroke-width="1.2"/>
<line x1="627.1" y1="14.5" x2="627.1" y2="269.4" stroke="#d8d8d8" stroke-width="1.2"/>
<line x1="391" y1="230.6" x2="678.6" y2="230.6" stroke="#d8d8d8" stroke-width="1.6"/>
<line x1="391" y1="191.8" x2="678.6" y2="191.8" stroke="#d8d8d8" stroke-width="1.6"/>
<line x1="391" y1="153" x2="678.6" y2="153" stroke="#d8d8d8" stroke-width="1.6"/>
<line x1="391" y1="114.2" x2="678.6" y2="114.2" stroke="#d8d8d8" stroke-width="1.6"/>
<line x1="391" y1="75.4" x2="678.6" y2="75.4" stroke="#d8d8d8" stroke-width="1.6"/>
<line x1="391" y1="36.6" x2="678.6" y2="36.6" stroke="#d8d8d8" stroke-width="1.6"/>
</g>
<path d="M403.8 214.1H420.8M403.8 212.3V215.9M420.8 212.3V215.9M412.9 210.4V219.8M411.1 210.4H414.7M411.1 219.8H414.7" stroke="#1f77b4" stroke-width="1.1" fill="none" stroke-opacity="0.85"/>
<rect x="409.8" y="211" width="6.2" height="6.2" fill="#1f77b4"/>
<path d="M425.3 191.6H442.3M425.3 189.8V193.4M442.3 189.8V193.4M434.4 187.9V197.3M432.6 187.9H436.2M432.6 197.3H436.2" stroke="#1f77b4" stroke-width="1.1" fill="none" stroke-opacity="0.85"/>
<rect x="431.3" y="188.5" width="6.2" height="6.2" fill="#1f77b4"/>
<path d="M452.2 170.6H469.2M452.2 168.8V172.4M469.2 168.8V172.4M461.3 166.9V176.3M459.5 166.9H463.1M459.5 176.3H463.1" stroke="#1f77b4" stroke-width="1.1" fill="none" stroke-opacity="0.85"/>
<rect x="458.2" y="167.5" width="6.2" height="6.2" fill="#1f77b4"/>
<path d="M478.7 147H495.7M478.7 145.2V148.8M495.7 145.2V148.8M487.8 143.3V152.7M486 143.3H489.6M486 152.7H489.6" stroke="#1f77b4" stroke-width="1.1" fill="none" stroke-opacity="0.85"/>
<rect x="484.7" y="143.9" width="6.2" height="6.2" fill="#1f77b4"/>
<path d="M487.2 138.3H504.2M487.2 136.5V140.1M504.2 136.5V140.1M496.3 134.6V144M494.5 134.6H498.1M494.5 144H498.1" stroke="#1f77b4" stroke-width="1.1" fill="none" stroke-opacity="0.85"/>
<rect x="493.2" y="135.2" width="6.2" height="6.2" fill="#1f77b4"/>
<path d="M515.2 114.6H532.2M515.2 112.8V116.4M532.2 112.8V116.4M524.3 110.9V120.3M522.5 110.9H526.1M522.5 120.3H526.1" stroke="#1f77b4" stroke-width="1.1" fill="none" stroke-opacity="0.85"/>
<rect x="521.2" y="111.5" width="6.2" height="6.2" fill="#1f77b4"/>
<path d="M550.3 86.1H567.3M550.3 84.3V87.9M567.3 84.3V87.9M559.4 82.4V91.8M557.6 82.4H561.2M557.6 91.8H561.2" stroke="#1f77b4" stroke-width="1.1" fill="none" stroke-opacity="0.85"/>
<rect x="556.3" y="83" width="6.2" height="6.2" fill="#1f77b4"/>
<path d="M577.5 66.5H594.5M577.5 64.7V68.3M594.5 64.7V68.3M586.6 62.8V72.2M584.8 62.8H588.4M584.8 72.2H588.4" stroke="#1f77b4" stroke-width="1.1" fill="none" stroke-opacity="0.85"/>
<rect x="583.5" y="63.4" width="6.2" height="6.2" fill="#1f77b4"/>
<path d="M593.6 56.7H610.6M593.6 54.9V58.5M610.6 54.9V58.5M602.7 53V62.4M600.9 53H604.5M600.9 62.4H604.5" stroke="#1f77b4" stroke-width="1.1" fill="none" stroke-opacity="0.85"/>
<rect x="599.6" y="53.6" width="6.2" height="6.2" fill="#1f77b4"/>
<path d="M604.7 50.5H621.7M604.7 48.7V52.3M621.7 48.7V52.3M613.8 46.8V56.2M612 46.8H615.6M612 56.2H615.6" stroke="#1f77b4" stroke-width="1.1" fill="none" stroke-opacity="0.85"/>
<rect x="610.7" y="47.4" width="6.2" height="6.2" fill="#1f77b4"/>
<path d="M614.9 45.8H631.9M614.9 44V47.6M631.9 44V47.6M624 42.1V51.5M622.2 42.1H625.8M622.2 51.5H625.8" stroke="#1f77b4" stroke-width="1.1" fill="none" stroke-opacity="0.85"/>
<rect x="620.9" y="42.7" width="6.2" height="6.2" fill="#1f77b4"/>
<path d="M629.6 40.3H646.6M629.6 38.5V42.1M646.6 38.5V42.1M638.7 36.6V46M636.9 36.6H640.5M636.9 46H640.5" stroke="#1f77b4" stroke-width="1.1" fill="none" stroke-opacity="0.85"/>
<rect x="635.6" y="37.2" width="6.2" height="6.2" fill="#1f77b4"/>
<path d="M640 36.6H657M640 34.8V38.4M657 34.8V38.4M649.1 32.9V42.3M647.3 32.9H650.9M647.3 42.3H650.9" stroke="#1f77b4" stroke-width="1.1" fill="none" stroke-opacity="0.85"/>
<rect x="646" y="33.5" width="6.2" height="6.2" fill="#1f77b4"/>
<path d="M648.8 38.2H665.8M648.8 36.4V40M665.8 36.4V40M657.9 34.5V43.9M656.1 34.5H659.7M656.1 43.9H659.7" stroke="#1f77b4" stroke-width="1.1" fill="none" stroke-opacity="0.85"/>
<rect x="654.8" y="35.1" width="6.2" height="6.2" fill="#1f77b4"/>
<path d="M403.8 240.8H420.8M403.8 239V242.6M420.8 239V242.6M412.9 237.1V246.5M411.1 237.1H414.7M411.1 246.5H414.7" stroke="#ff7f0e" stroke-width="1.1" fill="none" stroke-opacity="0.85"/>
<rect x="409.8" y="237.7" width="6.2" height="6.2" fill="#ff7f0e"/>
<path d="M425.3 214.1H442.3M425.3 212.3V215.9M442.3 212.3V215.9M434.4 210.4V219.8M432.6 210.4H436.2M432.6 219.8H436.2" stroke="#ff7f0e" stroke-width="1.1" fill="none" stroke-opacity="0.85"/>
<rect x="431.3" y="211" width="6.2" height="6.2" fill="#ff7f0e"/>
<path d="M452.2 191.1H469.2M452.2 189.3V192.9M469.2 189.3V192.9M461.3 187.4V196.8M459.5 187.4H463.1M459.5 196.8H463.1" stroke="#ff7f0e" stroke-width="1.1" fill="none" stroke-opacity="0.85"/>
<rect x="458.2" y="188" width="6.2" height="6.2" fill="#ff7f0e"/>
<path d="M478.7 166.4H495.7M478.7 164.6V168.2M495.7 164.6V168.2M487.8 162.7V172.1M486 162.7H489.6M486 172.1H489.6" stroke="#ff7f0e" stroke-width="1.1" fill="none" stroke-opacity="0.85"/>
<rect x="484.7" y="163.3" width="6.2" height="6.2" fill="#ff7f0e"/>
<path d="M487.2 157.3H504.2M487.2 155.5V159.1M504.2 155.5V159.1M496.3 153.6V163M494.5 153.6H498.1M494.5 163H498.1" stroke="#ff7f0e" stroke-width="1.1" fill="none" stroke-opacity="0.85"/>
<rect x="493.2" y="154.2" width="6.2" height="6.2" fill="#ff7f0e"/>
<path d="M515.2 134.6H532.2M515.2 132.8V136.4M532.2 132.8V136.4M524.3 130.9V140.3M522.5 130.9H526.1M522.5 140.3H526.1" stroke="#ff7f0e" stroke-width="1.1" fill="none" stroke-opacity="0.85"/>
<rect x="521.2" y="131.5" width="6.2" height="6.2" fill="#ff7f0e"/>
<path d="M550.3 105.2H567.3M550.3 103.4V107M567.3 103.4V107M559.4 101.5V110.9M557.6 101.5H561.2M557.6 110.9H561.2" stroke="#ff7f0e" stroke-width="1.1" fill="none" stroke-opacity="0.85"/>
<rect x="556.3" y="102.1" width="6.2" height="6.2" fill="#ff7f0e"/>
<path d="M577.5 85.3H594.5M577.5 83.5V87.1M594.5 83.5V87.1M586.6 81.6V91M584.8 81.6H588.4M584.8 91H588.4" stroke="#ff7f0e" stroke-width="1.1" fill="none" stroke-opacity="0.85"/>
<rect x="583.5" y="82.2" width="6.2" height="6.2" fill="#ff7f0e"/>
<path d="M593.6 75.6H610.6M593.6 73.8V77.4M610.6 73.8V77.4M602.7 71.9V81.3M600.9 71.9H604.5M600.9 81.3H604.5" stroke="#ff7f0e" stroke-width="1.1" fill="none" stroke-opacity="0.85"/>
<rect x="599.6" y="72.5" width="6.2" height="6.2" fill="#ff7f0e"/>
<path d="M604.7 69.2H621.7M604.7 67.4V71M621.7 67.4V71M613.8 65.5V74.9M612 65.5H615.6M612 74.9H615.6" stroke="#ff7f0e" stroke-width="1.1" fill="none" stroke-opacity="0.85"/>
<rect x="610.7" y="66.1" width="6.2" height="6.2" fill="#ff7f0e"/>
<path d="M614.9 63.8H631.9M614.9 62V65.6M631.9 62V65.6M624 60.1V69.5M622.2 60.1H625.8M622.2 69.5H625.8" stroke="#ff7f0e" stroke-width="1.1" fill="none" stroke-opacity="0.85"/>
<rect x="620.9" y="60.7" width="6.2" height="6.2" fill="#ff7f0e"/>
<path d="M629.6 58.2H646.6M629.6 56.4V60M646.6 56.4V60M638.7 54.5V63.9M636.9 54.5H640.5M636.9 63.9H640.5" stroke="#ff7f0e" stroke-width="1.1" fill="none" stroke-opacity="0.85"/>
<rect x="635.6" y="55.1" width="6.2" height="6.2" fill="#ff7f0e"/>
<path d="M640 55.5H657M640 53.7V57.3M657 53.7V57.3M649.1 51.8V61.2M647.3 51.8H650.9M647.3 61.2H650.9" stroke="#ff7f0e" stroke-width="1.1" fill="none" stroke-opacity="0.85"/>
<rect x="646" y="52.4" width="6.2" height="6.2" fill="#ff7f0e"/>
<path d="M648.8 57H665.8M648.8 55.2V58.8M665.8 55.2V58.8M657.9 53.3V62.7M656.1 53.3H659.7M656.1 62.7H659.7" stroke="#ff7f0e" stroke-width="1.1" fill="none" stroke-opacity="0.85"/>
<rect x="654.8" y="53.9" width="6.2" height="6.2" fill="#ff7f0e"/>
<path d="M490.9 141.5H507.9M490.9 139.7V143.3M507.9 139.7V143.3M500 137.8V147.2M498.2 137.8H501.8M498.2 147.2H501.8" stroke="#1f77b4" stroke-width="1.1" fill="none" stroke-opacity="0.85"/>
<path d="M500 137.4 L502.55 141.5 L500 145.6 L497.45 141.5 Z" fill="#fff" stroke="#1f77b4" stroke-width="1.1"/>
<path d="M526.7 112.7H543.7M526.7 110.9V114.5M543.7 110.9V114.5M535.8 109V118.4M534 109H537.6M534 118.4H537.6" stroke="#1f77b4" stroke-width="1.1" fill="none" stroke-opacity="0.85"/>
<path d="M535.8 108.6 L538.35 112.7 L535.8 116.8 L533.25 112.7 Z" fill="#fff" stroke="#1f77b4" stroke-width="1.1"/>
<path d="M553.2 90.6H570.2M553.2 88.8V92.4M570.2 88.8V92.4M562.3 86.9V96.3M560.5 86.9H564.1M560.5 96.3H564.1" stroke="#1f77b4" stroke-width="1.1" fill="none" stroke-opacity="0.85"/>
<path d="M562.3 86.5 L564.85 90.6 L562.3 94.7 L559.75 90.6 Z" fill="#fff" stroke="#1f77b4" stroke-width="1.1"/>
<path d="M571.8 77.5H588.8M571.8 75.7V79.3M588.8 75.7V79.3M580.9 73.8V83.2M579.1 73.8H582.7M579.1 83.2H582.7" stroke="#1f77b4" stroke-width="1.1" fill="none" stroke-opacity="0.85"/>
<path d="M580.9 73.4 L583.45 77.5 L580.9 81.6 L578.35 77.5 Z" fill="#fff" stroke="#1f77b4" stroke-width="1.1"/>
<path d="M580.3 71.8H597.3M580.3 70V73.6M597.3 70V73.6M589.4 68.1V77.5M587.6 68.1H591.2M587.6 77.5H591.2" stroke="#1f77b4" stroke-width="1.1" fill="none" stroke-opacity="0.85"/>
<path d="M589.4 67.7 L591.95 71.8 L589.4 75.9 L586.85 71.8 Z" fill="#fff" stroke="#1f77b4" stroke-width="1.1"/>
<path d="M596.3 63H613.3M596.3 61.2V64.8M613.3 61.2V64.8M605.4 59.3V68.7M603.6 59.3H607.2M603.6 68.7H607.2" stroke="#1f77b4" stroke-width="1.1" fill="none" stroke-opacity="0.85"/>
<path d="M605.4 58.9 L607.95 63 L605.4 67.1 L602.85 63 Z" fill="#fff" stroke="#1f77b4" stroke-width="1.1"/>
<path d="M607.3 56.8H624.3M607.3 55V58.6M624.3 55V58.6M616.4 53.1V62.5M614.6 53.1H618.2M614.6 62.5H618.2" stroke="#1f77b4" stroke-width="1.1" fill="none" stroke-opacity="0.85"/>
<path d="M616.4 52.7 L618.95 56.8 L616.4 60.9 L613.85 56.8 Z" fill="#fff" stroke="#1f77b4" stroke-width="1.1"/>
<path d="M617.5 46H634.5M617.5 44.2V47.8M634.5 44.2V47.8M626.6 42.3V51.7M624.8 42.3H628.4M624.8 51.7H628.4" stroke="#1f77b4" stroke-width="1.1" fill="none" stroke-opacity="0.85"/>
<path d="M626.6 41.9 L629.15 46 L626.6 50.1 L624.05 46 Z" fill="#fff" stroke="#1f77b4" stroke-width="1.1"/>
<path d="M626.5 44.2H643.5M626.5 42.4V46M643.5 42.4V46M635.6 40.5V49.9M633.8 40.5H637.4M633.8 49.9H637.4" stroke="#1f77b4" stroke-width="1.1" fill="none" stroke-opacity="0.85"/>
<path d="M635.6 40.1 L638.15 44.2 L635.6 48.3 L633.05 44.2 Z" fill="#fff" stroke="#1f77b4" stroke-width="1.1"/>
<path d="M635.7 41.6H652.7M635.7 39.8V43.4M652.7 39.8V43.4M644.8 37.9V47.3M643 37.9H646.6M643 47.3H646.6" stroke="#1f77b4" stroke-width="1.1" fill="none" stroke-opacity="0.85"/>
<path d="M644.8 37.5 L647.35 41.6 L644.8 45.7 L642.25 41.6 Z" fill="#fff" stroke="#1f77b4" stroke-width="1.1"/>
<path d="M640.3 42.6H657.3M640.3 40.8V44.4M657.3 40.8V44.4M649.4 38.9V48.3M647.6 38.9H651.2M647.6 48.3H651.2" stroke="#1f77b4" stroke-width="1.1" fill="none" stroke-opacity="0.85"/>
<path d="M649.4 38.5 L651.95 42.6 L649.4 46.7 L646.85 42.6 Z" fill="#fff" stroke="#1f77b4" stroke-width="1.1"/>
<path d="M649 44.9H666M649 43.1V46.7M666 43.1V46.7M658.1 41.2V50.6M656.3 41.2H659.9M656.3 50.6H659.9" stroke="#1f77b4" stroke-width="1.1" fill="none" stroke-opacity="0.85"/>
<path d="M658.1 40.8 L660.65 44.9 L658.1 49 L655.55 44.9 Z" fill="#fff" stroke="#1f77b4" stroke-width="1.1"/>
<path d="M490.9 162.8H507.9M490.9 161V164.6M507.9 161V164.6M500 159.1V168.5M498.2 159.1H501.8M498.2 168.5H501.8" stroke="#ff7f0e" stroke-width="1.1" fill="none" stroke-opacity="0.85"/>
<path d="M500 158.7 L502.55 162.8 L500 166.9 L497.45 162.8 Z" fill="#fff" stroke="#ff7f0e" stroke-width="1.1"/>
<path d="M526.7 132.5H543.7M526.7 130.7V134.3M543.7 130.7V134.3M535.8 128.8V138.2M534 128.8H537.6M534 138.2H537.6" stroke="#ff7f0e" stroke-width="1.1" fill="none" stroke-opacity="0.85"/>
<path d="M535.8 128.4 L538.35 132.5 L535.8 136.6 L533.25 132.5 Z" fill="#fff" stroke="#ff7f0e" stroke-width="1.1"/>
<path d="M553.2 110.5H570.2M553.2 108.7V112.3M570.2 108.7V112.3M562.3 106.8V116.2M560.5 106.8H564.1M560.5 116.2H564.1" stroke="#ff7f0e" stroke-width="1.1" fill="none" stroke-opacity="0.85"/>
<path d="M562.3 106.4 L564.85 110.5 L562.3 114.6 L559.75 110.5 Z" fill="#fff" stroke="#ff7f0e" stroke-width="1.1"/>
<path d="M571.8 97.7H588.8M571.8 95.9V99.5M588.8 95.9V99.5M580.9 94V103.4M579.1 94H582.7M579.1 103.4H582.7" stroke="#ff7f0e" stroke-width="1.1" fill="none" stroke-opacity="0.85"/>
<path d="M580.9 93.6 L583.45 97.7 L580.9 101.8 L578.35 97.7 Z" fill="#fff" stroke="#ff7f0e" stroke-width="1.1"/>
<path d="M580.3 91.8H597.3M580.3 90V93.6M597.3 90V93.6M589.4 88.1V97.5M587.6 88.1H591.2M587.6 97.5H591.2" stroke="#ff7f0e" stroke-width="1.1" fill="none" stroke-opacity="0.85"/>
<path d="M589.4 87.7 L591.95 91.8 L589.4 95.9 L586.85 91.8 Z" fill="#fff" stroke="#ff7f0e" stroke-width="1.1"/>
<path d="M596.3 82.8H613.3M596.3 81V84.6M613.3 81V84.6M605.4 79.1V88.5M603.6 79.1H607.2M603.6 88.5H607.2" stroke="#ff7f0e" stroke-width="1.1" fill="none" stroke-opacity="0.85"/>
<path d="M605.4 78.7 L607.95 82.8 L605.4 86.9 L602.85 82.8 Z" fill="#fff" stroke="#ff7f0e" stroke-width="1.1"/>
<path d="M607.3 77H624.3M607.3 75.2V78.8M624.3 75.2V78.8M616.4 73.3V82.7M614.6 73.3H618.2M614.6 82.7H618.2" stroke="#ff7f0e" stroke-width="1.1" fill="none" stroke-opacity="0.85"/>
<path d="M616.4 72.9 L618.95 77 L616.4 81.1 L613.85 77 Z" fill="#fff" stroke="#ff7f0e" stroke-width="1.1"/>
<path d="M617.5 65.5H634.5M617.5 63.7V67.3M634.5 63.7V67.3M626.6 61.8V71.2M624.8 61.8H628.4M624.8 71.2H628.4" stroke="#ff7f0e" stroke-width="1.1" fill="none" stroke-opacity="0.85"/>
<path d="M626.6 61.4 L629.15 65.5 L626.6 69.6 L624.05 65.5 Z" fill="#fff" stroke="#ff7f0e" stroke-width="1.1"/>
<path d="M626.5 63.5H643.5M626.5 61.7V65.3M643.5 61.7V65.3M635.6 59.8V69.2M633.8 59.8H637.4M633.8 69.2H637.4" stroke="#ff7f0e" stroke-width="1.1" fill="none" stroke-opacity="0.85"/>
<path d="M635.6 59.4 L638.15 63.5 L635.6 67.6 L633.05 63.5 Z" fill="#fff" stroke="#ff7f0e" stroke-width="1.1"/>
<path d="M635.7 62.2H652.7M635.7 60.4V64M652.7 60.4V64M644.8 58.5V67.9M643 58.5H646.6M643 67.9H646.6" stroke="#ff7f0e" stroke-width="1.1" fill="none" stroke-opacity="0.85"/>
<path d="M644.8 58.1 L647.35 62.2 L644.8 66.3 L642.25 62.2 Z" fill="#fff" stroke="#ff7f0e" stroke-width="1.1"/>
<path d="M640.3 62.9H657.3M640.3 61.1V64.7M657.3 61.1V64.7M649.4 59.2V68.6M647.6 59.2H651.2M647.6 68.6H651.2" stroke="#ff7f0e" stroke-width="1.1" fill="none" stroke-opacity="0.85"/>
<path d="M649.4 58.8 L651.95 62.9 L649.4 67 L646.85 62.9 Z" fill="#fff" stroke="#ff7f0e" stroke-width="1.1"/>
<path d="M649 64.9H666M649 63.1V66.7M666 63.1V66.7M658.1 61.2V70.6M656.3 61.2H659.9M656.3 70.6H659.9" stroke="#ff7f0e" stroke-width="1.1" fill="none" stroke-opacity="0.85"/>
<path d="M658.1 60.8 L660.65 64.9 L658.1 69 L655.55 64.9 Z" fill="#fff" stroke="#ff7f0e" stroke-width="1.1"/>
<rect x="391" y="73.2" width="287.6" height="4.5" fill="#bfbf00" fill-opacity="0.3"/>
<rect x="394.3" y="17.3" width="134" height="39.6" rx="2" fill="#fff" fill-opacity="0.85" stroke="#dcdcdc" stroke-width="0.9"/>
<rect x="400.2" y="19.9" width="6" height="6" fill="#1f77b4"/>
<rect x="400.2" y="29.3" width="6" height="6" fill="#ff7f0e"/>
<path d="M403.2 37.4 L406.1 41.8 L403.2 46.2 L400.3 41.8 Z" fill="#fff" stroke="#1f77b4" stroke-width="1.1"/>
<path d="M403.2 47.6 L406.1 52 L403.2 56.4 L400.3 52 Z" fill="#fff" stroke="#ff7f0e" stroke-width="1.1"/>
<text x="414.9" y="25.6" font-size="7.4" textLength="88.9" lengthAdjust="spacingAndGlyphs" fill="#000">CCD meas., without DEMUX</text>
<text x="414.9" y="35" font-size="7.4" textLength="78.3" lengthAdjust="spacingAndGlyphs" fill="#000">CCD meas., with DEMUX</text>
<text x="414.9" y="44.5" font-size="7.4" textLength="111" lengthAdjust="spacingAndGlyphs" fill="#000">coincidence meas, without DEMUX</text>
<text x="414.9" y="54" font-size="7.4" textLength="100.2" lengthAdjust="spacingAndGlyphs" fill="#000">coincidence meas, with DEMUX</text>
<rect x="391" y="14.5" width="287.6" height="254.9" fill="none" stroke="#000" stroke-width="0.8"/>
<line x1="401.55" y1="269.4" x2="401.55" y2="267" stroke="#444" stroke-width="0.7"/>
<line x1="401.55" y1="14.5" x2="401.55" y2="16.9" stroke="#444" stroke-width="0.7"/>
<line x1="412.72" y1="269.4" x2="412.72" y2="267" stroke="#444" stroke-width="0.7"/>
<line x1="412.72" y1="14.5" x2="412.72" y2="16.9" stroke="#444" stroke-width="0.7"/>
<line x1="421.39" y1="269.4" x2="421.39" y2="267" stroke="#444" stroke-width="0.7"/>
<line x1="421.39" y1="14.5" x2="421.39" y2="16.9" stroke="#444" stroke-width="0.7"/>
<line x1="428.47" y1="269.4" x2="428.47" y2="267" stroke="#444" stroke-width="0.7"/>
<line x1="428.47" y1="14.5" x2="428.47" y2="16.9" stroke="#444" stroke-width="0.7"/>
<line x1="434.45" y1="269.4" x2="434.45" y2="267" stroke="#444" stroke-width="0.7"/>
<line x1="434.45" y1="14.5" x2="434.45" y2="16.9" stroke="#444" stroke-width="0.7"/>
<line x1="439.64" y1="269.4" x2="439.64" y2="267" stroke="#444" stroke-width="0.7"/>
<line x1="439.64" y1="14.5" x2="439.64" y2="16.9" stroke="#444" stroke-width="0.7"/>
<line x1="444.21" y1="269.4" x2="444.21" y2="267" stroke="#444" stroke-width="0.7"/>
<line x1="444.21" y1="14.5" x2="444.21" y2="16.9" stroke="#444" stroke-width="0.7"/>
<line x1="448.3" y1="269.4" x2="448.3" y2="265.1" stroke="#222" stroke-width="0.9"/>
<line x1="448.3" y1="14.5" x2="448.3" y2="18.8" stroke="#222" stroke-width="0.9"/>
<line x1="475.21" y1="269.4" x2="475.21" y2="267" stroke="#444" stroke-width="0.7"/>
<line x1="475.21" y1="14.5" x2="475.21" y2="16.9" stroke="#444" stroke-width="0.7"/>
<line x1="490.95" y1="269.4" x2="490.95" y2="267" stroke="#444" stroke-width="0.7"/>
<line x1="490.95" y1="14.5" x2="490.95" y2="16.9" stroke="#444" stroke-width="0.7"/>
<line x1="502.12" y1="269.4" x2="502.12" y2="267" stroke="#444" stroke-width="0.7"/>
<line x1="502.12" y1="14.5" x2="502.12" y2="16.9" stroke="#444" stroke-width="0.7"/>
<line x1="510.79" y1="269.4" x2="510.79" y2="267" stroke="#444" stroke-width="0.7"/>
<line x1="510.79" y1="14.5" x2="510.79" y2="16.9" stroke="#444" stroke-width="0.7"/>
<line x1="517.87" y1="269.4" x2="517.87" y2="267" stroke="#444" stroke-width="0.7"/>
<line x1="517.87" y1="14.5" x2="517.87" y2="16.9" stroke="#444" stroke-width="0.7"/>
<line x1="523.85" y1="269.4" x2="523.85" y2="267" stroke="#444" stroke-width="0.7"/>
<line x1="523.85" y1="14.5" x2="523.85" y2="16.9" stroke="#444" stroke-width="0.7"/>
<line x1="529.04" y1="269.4" x2="529.04" y2="267" stroke="#444" stroke-width="0.7"/>
<line x1="529.04" y1="14.5" x2="529.04" y2="16.9" stroke="#444" stroke-width="0.7"/>
<line x1="533.61" y1="269.4" x2="533.61" y2="267" stroke="#444" stroke-width="0.7"/>
<line x1="533.61" y1="14.5" x2="533.61" y2="16.9" stroke="#444" stroke-width="0.7"/>
<line x1="537.7" y1="269.4" x2="537.7" y2="265.1" stroke="#222" stroke-width="0.9"/>
<line x1="537.7" y1="14.5" x2="537.7" y2="18.8" stroke="#222" stroke-width="0.9"/>
<line x1="564.61" y1="269.4" x2="564.61" y2="267" stroke="#444" stroke-width="0.7"/>
<line x1="564.61" y1="14.5" x2="564.61" y2="16.9" stroke="#444" stroke-width="0.7"/>
<line x1="580.35" y1="269.4" x2="580.35" y2="267" stroke="#444" stroke-width="0.7"/>
<line x1="580.35" y1="14.5" x2="580.35" y2="16.9" stroke="#444" stroke-width="0.7"/>
<line x1="591.52" y1="269.4" x2="591.52" y2="267" stroke="#444" stroke-width="0.7"/>
<line x1="591.52" y1="14.5" x2="591.52" y2="16.9" stroke="#444" stroke-width="0.7"/>
<line x1="600.19" y1="269.4" x2="600.19" y2="267" stroke="#444" stroke-width="0.7"/>
<line x1="600.19" y1="14.5" x2="600.19" y2="16.9" stroke="#444" stroke-width="0.7"/>
<line x1="607.27" y1="269.4" x2="607.27" y2="267" stroke="#444" stroke-width="0.7"/>
<line x1="607.27" y1="14.5" x2="607.27" y2="16.9" stroke="#444" stroke-width="0.7"/>
<line x1="613.25" y1="269.4" x2="613.25" y2="267" stroke="#444" stroke-width="0.7"/>
<line x1="613.25" y1="14.5" x2="613.25" y2="16.9" stroke="#444" stroke-width="0.7"/>
<line x1="618.44" y1="269.4" x2="618.44" y2="267" stroke="#444" stroke-width="0.7"/>
<line x1="618.44" y1="14.5" x2="618.44" y2="16.9" stroke="#444" stroke-width="0.7"/>
<line x1="623.01" y1="269.4" x2="623.01" y2="267" stroke="#444" stroke-width="0.7"/>
<line x1="623.01" y1="14.5" x2="623.01" y2="16.9" stroke="#444" stroke-width="0.7"/>
<line x1="627.1" y1="269.4" x2="627.1" y2="265.1" stroke="#222" stroke-width="0.9"/>
<line x1="627.1" y1="14.5" x2="627.1" y2="18.8" stroke="#222" stroke-width="0.9"/>
<line x1="654.01" y1="269.4" x2="654.01" y2="267" stroke="#444" stroke-width="0.7"/>
<line x1="654.01" y1="14.5" x2="654.01" y2="16.9" stroke="#444" stroke-width="0.7"/>
<line x1="669.75" y1="269.4" x2="669.75" y2="267" stroke="#444" stroke-width="0.7"/>
<line x1="669.75" y1="14.5" x2="669.75" y2="16.9" stroke="#444" stroke-width="0.7"/>
<line x1="391" y1="269.4" x2="395.3" y2="269.4" stroke="#222" stroke-width="0.9"/>
<line x1="678.6" y1="269.4" x2="674.3" y2="269.4" stroke="#222" stroke-width="0.9"/>
<line x1="391" y1="257.72" x2="393.4" y2="257.72" stroke="#444" stroke-width="0.7"/>
<line x1="678.6" y1="257.72" x2="676.2" y2="257.72" stroke="#444" stroke-width="0.7"/>
<line x1="391" y1="250.89" x2="393.4" y2="250.89" stroke="#444" stroke-width="0.7"/>
<line x1="678.6" y1="250.89" x2="676.2" y2="250.89" stroke="#444" stroke-width="0.7"/>
<line x1="391" y1="246.04" x2="393.4" y2="246.04" stroke="#444" stroke-width="0.7"/>
<line x1="678.6" y1="246.04" x2="676.2" y2="246.04" stroke="#444" stroke-width="0.7"/>
<line x1="391" y1="242.28" x2="393.4" y2="242.28" stroke="#444" stroke-width="0.7"/>
<line x1="678.6" y1="242.28" x2="676.2" y2="242.28" stroke="#444" stroke-width="0.7"/>
<line x1="391" y1="239.21" x2="393.4" y2="239.21" stroke="#444" stroke-width="0.7"/>
<line x1="678.6" y1="239.21" x2="676.2" y2="239.21" stroke="#444" stroke-width="0.7"/>
<line x1="391" y1="236.61" x2="393.4" y2="236.61" stroke="#444" stroke-width="0.7"/>
<line x1="678.6" y1="236.61" x2="676.2" y2="236.61" stroke="#444" stroke-width="0.7"/>
<line x1="391" y1="234.36" x2="393.4" y2="234.36" stroke="#444" stroke-width="0.7"/>
<line x1="678.6" y1="234.36" x2="676.2" y2="234.36" stroke="#444" stroke-width="0.7"/>
<line x1="391" y1="232.38" x2="393.4" y2="232.38" stroke="#444" stroke-width="0.7"/>
<line x1="678.6" y1="232.38" x2="676.2" y2="232.38" stroke="#444" stroke-width="0.7"/>
<line x1="391" y1="230.6" x2="395.3" y2="230.6" stroke="#222" stroke-width="0.9"/>
<line x1="678.6" y1="230.6" x2="674.3" y2="230.6" stroke="#222" stroke-width="0.9"/>
<line x1="391" y1="218.92" x2="393.4" y2="218.92" stroke="#444" stroke-width="0.7"/>
<line x1="678.6" y1="218.92" x2="676.2" y2="218.92" stroke="#444" stroke-width="0.7"/>
<line x1="391" y1="212.09" x2="393.4" y2="212.09" stroke="#444" stroke-width="0.7"/>
<line x1="678.6" y1="212.09" x2="676.2" y2="212.09" stroke="#444" stroke-width="0.7"/>
<line x1="391" y1="207.24" x2="393.4" y2="207.24" stroke="#444" stroke-width="0.7"/>
<line x1="678.6" y1="207.24" x2="676.2" y2="207.24" stroke="#444" stroke-width="0.7"/>
<line x1="391" y1="203.48" x2="393.4" y2="203.48" stroke="#444" stroke-width="0.7"/>
<line x1="678.6" y1="203.48" x2="676.2" y2="203.48" stroke="#444" stroke-width="0.7"/>
<line x1="391" y1="200.41" x2="393.4" y2="200.41" stroke="#444" stroke-width="0.7"/>
<line x1="678.6" y1="200.41" x2="676.2" y2="200.41" stroke="#444" stroke-width="0.7"/>
<line x1="391" y1="197.81" x2="393.4" y2="197.81" stroke="#444" stroke-width="0.7"/>
<line x1="678.6" y1="197.81" x2="676.2" y2="197.81" stroke="#444" stroke-width="0.7"/>
<line x1="391" y1="195.56" x2="393.4" y2="195.56" stroke="#444" stroke-width="0.7"/>
<line x1="678.6" y1="195.56" x2="676.2" y2="195.56" stroke="#444" stroke-width="0.7"/>
<line x1="391" y1="193.58" x2="393.4" y2="193.58" stroke="#444" stroke-width="0.7"/>
<line x1="678.6" y1="193.58" x2="676.2" y2="193.58" stroke="#444" stroke-width="0.7"/>
<line x1="391" y1="191.8" x2="395.3" y2="191.8" stroke="#222" stroke-width="0.9"/>
<line x1="678.6" y1="191.8" x2="674.3" y2="191.8" stroke="#222" stroke-width="0.9"/>
<line x1="391" y1="180.12" x2="393.4" y2="180.12" stroke="#444" stroke-width="0.7"/>
<line x1="678.6" y1="180.12" x2="676.2" y2="180.12" stroke="#444" stroke-width="0.7"/>
<line x1="391" y1="173.29" x2="393.4" y2="173.29" stroke="#444" stroke-width="0.7"/>
<line x1="678.6" y1="173.29" x2="676.2" y2="173.29" stroke="#444" stroke-width="0.7"/>
<line x1="391" y1="168.44" x2="393.4" y2="168.44" stroke="#444" stroke-width="0.7"/>
<line x1="678.6" y1="168.44" x2="676.2" y2="168.44" stroke="#444" stroke-width="0.7"/>
<line x1="391" y1="164.68" x2="393.4" y2="164.68" stroke="#444" stroke-width="0.7"/>
<line x1="678.6" y1="164.68" x2="676.2" y2="164.68" stroke="#444" stroke-width="0.7"/>
<line x1="391" y1="161.61" x2="393.4" y2="161.61" stroke="#444" stroke-width="0.7"/>
<line x1="678.6" y1="161.61" x2="676.2" y2="161.61" stroke="#444" stroke-width="0.7"/>
<line x1="391" y1="159.01" x2="393.4" y2="159.01" stroke="#444" stroke-width="0.7"/>
<line x1="678.6" y1="159.01" x2="676.2" y2="159.01" stroke="#444" stroke-width="0.7"/>
<line x1="391" y1="156.76" x2="393.4" y2="156.76" stroke="#444" stroke-width="0.7"/>
<line x1="678.6" y1="156.76" x2="676.2" y2="156.76" stroke="#444" stroke-width="0.7"/>
<line x1="391" y1="154.78" x2="393.4" y2="154.78" stroke="#444" stroke-width="0.7"/>
<line x1="678.6" y1="154.78" x2="676.2" y2="154.78" stroke="#444" stroke-width="0.7"/>
<line x1="391" y1="153" x2="395.3" y2="153" stroke="#222" stroke-width="0.9"/>
<line x1="678.6" y1="153" x2="674.3" y2="153" stroke="#222" stroke-width="0.9"/>
<line x1="391" y1="141.32" x2="393.4" y2="141.32" stroke="#444" stroke-width="0.7"/>
<line x1="678.6" y1="141.32" x2="676.2" y2="141.32" stroke="#444" stroke-width="0.7"/>
<line x1="391" y1="134.49" x2="393.4" y2="134.49" stroke="#444" stroke-width="0.7"/>
<line x1="678.6" y1="134.49" x2="676.2" y2="134.49" stroke="#444" stroke-width="0.7"/>
<line x1="391" y1="129.64" x2="393.4" y2="129.64" stroke="#444" stroke-width="0.7"/>
<line x1="678.6" y1="129.64" x2="676.2" y2="129.64" stroke="#444" stroke-width="0.7"/>
<line x1="391" y1="125.88" x2="393.4" y2="125.88" stroke="#444" stroke-width="0.7"/>
<line x1="678.6" y1="125.88" x2="676.2" y2="125.88" stroke="#444" stroke-width="0.7"/>
<line x1="391" y1="122.81" x2="393.4" y2="122.81" stroke="#444" stroke-width="0.7"/>
<line x1="678.6" y1="122.81" x2="676.2" y2="122.81" stroke="#444" stroke-width="0.7"/>
<line x1="391" y1="120.21" x2="393.4" y2="120.21" stroke="#444" stroke-width="0.7"/>
<line x1="678.6" y1="120.21" x2="676.2" y2="120.21" stroke="#444" stroke-width="0.7"/>
<line x1="391" y1="117.96" x2="393.4" y2="117.96" stroke="#444" stroke-width="0.7"/>
<line x1="678.6" y1="117.96" x2="676.2" y2="117.96" stroke="#444" stroke-width="0.7"/>
<line x1="391" y1="115.98" x2="393.4" y2="115.98" stroke="#444" stroke-width="0.7"/>
<line x1="678.6" y1="115.98" x2="676.2" y2="115.98" stroke="#444" stroke-width="0.7"/>
<line x1="391" y1="114.2" x2="395.3" y2="114.2" stroke="#222" stroke-width="0.9"/>
<line x1="678.6" y1="114.2" x2="674.3" y2="114.2" stroke="#222" stroke-width="0.9"/>
<line x1="391" y1="102.52" x2="393.4" y2="102.52" stroke="#444" stroke-width="0.7"/>
<line x1="678.6" y1="102.52" x2="676.2" y2="102.52" stroke="#444" stroke-width="0.7"/>
<line x1="391" y1="95.69" x2="393.4" y2="95.69" stroke="#444" stroke-width="0.7"/>
<line x1="678.6" y1="95.69" x2="676.2" y2="95.69" stroke="#444" stroke-width="0.7"/>
<line x1="391" y1="90.84" x2="393.4" y2="90.84" stroke="#444" stroke-width="0.7"/>
<line x1="678.6" y1="90.84" x2="676.2" y2="90.84" stroke="#444" stroke-width="0.7"/>
<line x1="391" y1="87.08" x2="393.4" y2="87.08" stroke="#444" stroke-width="0.7"/>
<line x1="678.6" y1="87.08" x2="676.2" y2="87.08" stroke="#444" stroke-width="0.7"/>
<line x1="391" y1="84.01" x2="393.4" y2="84.01" stroke="#444" stroke-width="0.7"/>
<line x1="678.6" y1="84.01" x2="676.2" y2="84.01" stroke="#444" stroke-width="0.7"/>
<line x1="391" y1="81.41" x2="393.4" y2="81.41" stroke="#444" stroke-width="0.7"/>
<line x1="678.6" y1="81.41" x2="676.2" y2="81.41" stroke="#444" stroke-width="0.7"/>
<line x1="391" y1="79.16" x2="393.4" y2="79.16" stroke="#444" stroke-width="0.7"/>
<line x1="678.6" y1="79.16" x2="676.2" y2="79.16" stroke="#444" stroke-width="0.7"/>
<line x1="391" y1="77.18" x2="393.4" y2="77.18" stroke="#444" stroke-width="0.7"/>
<line x1="678.6" y1="77.18" x2="676.2" y2="77.18" stroke="#444" stroke-width="0.7"/>
<line x1="391" y1="75.4" x2="395.3" y2="75.4" stroke="#222" stroke-width="0.9"/>
<line x1="678.6" y1="75.4" x2="674.3" y2="75.4" stroke="#222" stroke-width="0.9"/>
<line x1="391" y1="63.72" x2="393.4" y2="63.72" stroke="#444" stroke-width="0.7"/>
<line x1="678.6" y1="63.72" x2="676.2" y2="63.72" stroke="#444" stroke-width="0.7"/>
<line x1="391" y1="56.89" x2="393.4" y2="56.89" stroke="#444" stroke-width="0.7"/>
<line x1="678.6" y1="56.89" x2="676.2" y2="56.89" stroke="#444" stroke-width="0.7"/>
<line x1="391" y1="52.04" x2="393.4" y2="52.04" stroke="#444" stroke-width="0.7"/>
<line x1="678.6" y1="52.04" x2="676.2" y2="52.04" stroke="#444" stroke-width="0.7"/>
<line x1="391" y1="48.28" x2="393.4" y2="48.28" stroke="#444" stroke-width="0.7"/>
<line x1="678.6" y1="48.28" x2="676.2" y2="48.28" stroke="#444" stroke-width="0.7"/>
<line x1="391" y1="45.21" x2="393.4" y2="45.21" stroke="#444" stroke-width="0.7"/>
<line x1="678.6" y1="45.21" x2="676.2" y2="45.21" stroke="#444" stroke-width="0.7"/>
<line x1="391" y1="42.61" x2="393.4" y2="42.61" stroke="#444" stroke-width="0.7"/>
<line x1="678.6" y1="42.61" x2="676.2" y2="42.61" stroke="#444" stroke-width="0.7"/>
<line x1="391" y1="40.36" x2="393.4" y2="40.36" stroke="#444" stroke-width="0.7"/>
<line x1="678.6" y1="40.36" x2="676.2" y2="40.36" stroke="#444" stroke-width="0.7"/>
<line x1="391" y1="38.38" x2="393.4" y2="38.38" stroke="#444" stroke-width="0.7"/>
<line x1="678.6" y1="38.38" x2="676.2" y2="38.38" stroke="#444" stroke-width="0.7"/>
<line x1="391" y1="36.6" x2="395.3" y2="36.6" stroke="#222" stroke-width="0.9"/>
<line x1="678.6" y1="36.6" x2="674.3" y2="36.6" stroke="#222" stroke-width="0.9"/>
<line x1="391" y1="24.92" x2="393.4" y2="24.92" stroke="#444" stroke-width="0.7"/>
<line x1="678.6" y1="24.92" x2="676.2" y2="24.92" stroke="#444" stroke-width="0.7"/>
<line x1="391" y1="18.09" x2="393.4" y2="18.09" stroke="#444" stroke-width="0.7"/>
<line x1="678.6" y1="18.09" x2="676.2" y2="18.09" stroke="#444" stroke-width="0.7"/>
<text x="373.4" y="273.1" font-size="9.6" textLength="11.3" lengthAdjust="spacingAndGlyphs" fill="#000">10</text>
<text x="384.7" y="269.8" font-size="6.9" textLength="3.9" lengthAdjust="spacingAndGlyphs" fill="#000">4</text>
<text x="373.4" y="234.3" font-size="9.6" textLength="11.3" lengthAdjust="spacingAndGlyphs" fill="#000">10</text>
<text x="384.7" y="231" font-size="6.9" textLength="3.9" lengthAdjust="spacingAndGlyphs" fill="#000">5</text>
<text x="373.4" y="195.5" font-size="9.6" textLength="11.3" lengthAdjust="spacingAndGlyphs" fill="#000">10</text>
<text x="384.7" y="192.2" font-size="6.9" textLength="3.9" lengthAdjust="spacingAndGlyphs" fill="#000">6</text>
<text x="373.4" y="156.7" font-size="9.6" textLength="11.3" lengthAdjust="spacingAndGlyphs" fill="#000">10</text>
<text x="384.7" y="153.4" font-size="6.9" textLength="3.9" lengthAdjust="spacingAndGlyphs" fill="#000">7</text>
<text x="373.4" y="117.9" font-size="9.6" textLength="11.3" lengthAdjust="spacingAndGlyphs" fill="#000">10</text>
<text x="384.7" y="114.6" font-size="6.9" textLength="3.9" lengthAdjust="spacingAndGlyphs" fill="#000">8</text>
<text x="373.4" y="79.1" font-size="9.6" textLength="11.3" lengthAdjust="spacingAndGlyphs" fill="#000">10</text>
<text x="384.7" y="75.8" font-size="6.9" textLength="3.9" lengthAdjust="spacingAndGlyphs" fill="#000">9</text>
<text x="369.1" y="40.3" font-size="9.6" textLength="11.3" lengthAdjust="spacingAndGlyphs" fill="#000">10</text>
<text x="380.4" y="37" font-size="6.9" textLength="7.8" lengthAdjust="spacingAndGlyphs" fill="#000">10</text>
<text x="437.8" y="278.5" font-size="9.6" textLength="11.3" lengthAdjust="spacingAndGlyphs" fill="#000">10</text>
<text x="449.1" y="274.6" font-size="6.9" textLength="8" lengthAdjust="spacingAndGlyphs" fill="#000">−1</text>
<text x="529.5" y="278.5" font-size="9.6" textLength="11.3" lengthAdjust="spacingAndGlyphs" fill="#000">10</text>
<text x="541" y="274.6" font-size="6.9" textLength="3.9" lengthAdjust="spacingAndGlyphs" fill="#000">0</text>
<text x="618.9" y="278.5" font-size="9.6" textLength="11.3" lengthAdjust="spacingAndGlyphs" fill="#000">10</text>
<text x="630.4" y="274.6" font-size="6.9" textLength="3.9" lengthAdjust="spacingAndGlyphs" fill="#000">1</text>
<text x="534.8" y="291.7" font-size="13.1" text-anchor="middle" textLength="105" lengthAdjust="spacingAndGlyphs" fill="#000">Input power (mW)</text>
<text x="0" y="0" font-size="12.7" text-anchor="middle" textLength="76.2" lengthAdjust="spacingAndGlyphs" fill="#000" transform="translate(365.0 141.8) rotate(-90)">Rate (pairs/s)</text></svg></body></html>
